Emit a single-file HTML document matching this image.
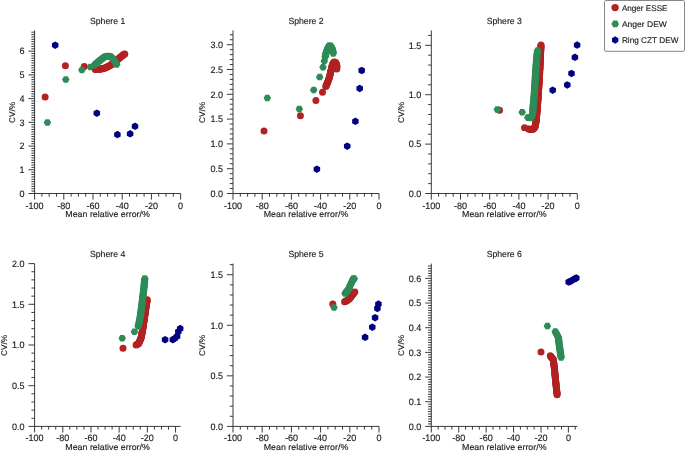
<!DOCTYPE html>
<html><head><meta charset="utf-8"><style>
html,body{margin:0;padding:0;background:#fff;overflow:hidden;}
text.t{fill:#1c1c1c;stroke:#1c1c1c;stroke-width:0.15px;}
svg{display:block;font-family:"Liberation Sans",sans-serif;will-change:transform;text-rendering:geometricPrecision;}
</style></head><body>
<svg width="685" height="451" viewBox="0 0 685 451">
<rect width="685" height="451" fill="#fff"/>
<line x1="34.60" y1="30.40" x2="34.60" y2="194.00" stroke="#3a3a3a" stroke-width="1.0"/>
<line x1="34.10" y1="193.50" x2="180.60" y2="193.50" stroke="#3a3a3a" stroke-width="1.0"/>
<line x1="34.60" y1="193.50" x2="34.60" y2="199.60" stroke="#3a3a3a" stroke-width="1.0"/>
<text transform="translate(34.60,208.50) scale(0.97,1)" font-size="9.3" text-anchor="middle" class="t">-100</text>
<line x1="41.90" y1="193.50" x2="41.90" y2="196.70" stroke="#3a3a3a" stroke-width="1.0"/>
<line x1="49.20" y1="193.50" x2="49.20" y2="196.70" stroke="#3a3a3a" stroke-width="1.0"/>
<line x1="56.50" y1="193.50" x2="56.50" y2="196.70" stroke="#3a3a3a" stroke-width="1.0"/>
<line x1="63.80" y1="193.50" x2="63.80" y2="199.60" stroke="#3a3a3a" stroke-width="1.0"/>
<text transform="translate(63.80,208.50) scale(0.97,1)" font-size="9.3" text-anchor="middle" class="t">-80</text>
<line x1="71.10" y1="193.50" x2="71.10" y2="196.70" stroke="#3a3a3a" stroke-width="1.0"/>
<line x1="78.40" y1="193.50" x2="78.40" y2="196.70" stroke="#3a3a3a" stroke-width="1.0"/>
<line x1="85.70" y1="193.50" x2="85.70" y2="196.70" stroke="#3a3a3a" stroke-width="1.0"/>
<line x1="93.00" y1="193.50" x2="93.00" y2="199.60" stroke="#3a3a3a" stroke-width="1.0"/>
<text transform="translate(93.00,208.50) scale(0.97,1)" font-size="9.3" text-anchor="middle" class="t">-60</text>
<line x1="100.30" y1="193.50" x2="100.30" y2="196.70" stroke="#3a3a3a" stroke-width="1.0"/>
<line x1="107.60" y1="193.50" x2="107.60" y2="196.70" stroke="#3a3a3a" stroke-width="1.0"/>
<line x1="114.90" y1="193.50" x2="114.90" y2="196.70" stroke="#3a3a3a" stroke-width="1.0"/>
<line x1="122.20" y1="193.50" x2="122.20" y2="199.60" stroke="#3a3a3a" stroke-width="1.0"/>
<text transform="translate(122.20,208.50) scale(0.97,1)" font-size="9.3" text-anchor="middle" class="t">-40</text>
<line x1="129.50" y1="193.50" x2="129.50" y2="196.70" stroke="#3a3a3a" stroke-width="1.0"/>
<line x1="136.80" y1="193.50" x2="136.80" y2="196.70" stroke="#3a3a3a" stroke-width="1.0"/>
<line x1="144.10" y1="193.50" x2="144.10" y2="196.70" stroke="#3a3a3a" stroke-width="1.0"/>
<line x1="151.40" y1="193.50" x2="151.40" y2="199.60" stroke="#3a3a3a" stroke-width="1.0"/>
<text transform="translate(151.40,208.50) scale(0.97,1)" font-size="9.3" text-anchor="middle" class="t">-20</text>
<line x1="158.70" y1="193.50" x2="158.70" y2="196.70" stroke="#3a3a3a" stroke-width="1.0"/>
<line x1="166.00" y1="193.50" x2="166.00" y2="196.70" stroke="#3a3a3a" stroke-width="1.0"/>
<line x1="173.30" y1="193.50" x2="173.30" y2="196.70" stroke="#3a3a3a" stroke-width="1.0"/>
<line x1="180.60" y1="193.50" x2="180.60" y2="199.60" stroke="#3a3a3a" stroke-width="1.0"/>
<text transform="translate(180.60,208.50) scale(0.97,1)" font-size="9.3" text-anchor="middle" class="t">0</text>
<line x1="28.50" y1="193.50" x2="34.60" y2="193.50" stroke="#3a3a3a" stroke-width="1.0"/>
<text transform="translate(24.60,196.80) scale(0.97,1)" font-size="9.3" text-anchor="end" class="t">0</text>
<line x1="31.40" y1="191.13" x2="34.60" y2="191.13" stroke="#3a3a3a" stroke-width="1.0"/>
<line x1="31.40" y1="188.76" x2="34.60" y2="188.76" stroke="#3a3a3a" stroke-width="1.0"/>
<line x1="31.40" y1="186.38" x2="34.60" y2="186.38" stroke="#3a3a3a" stroke-width="1.0"/>
<line x1="31.40" y1="184.01" x2="34.60" y2="184.01" stroke="#3a3a3a" stroke-width="1.0"/>
<line x1="31.40" y1="181.64" x2="34.60" y2="181.64" stroke="#3a3a3a" stroke-width="1.0"/>
<line x1="31.40" y1="179.27" x2="34.60" y2="179.27" stroke="#3a3a3a" stroke-width="1.0"/>
<line x1="31.40" y1="176.89" x2="34.60" y2="176.89" stroke="#3a3a3a" stroke-width="1.0"/>
<line x1="31.40" y1="174.52" x2="34.60" y2="174.52" stroke="#3a3a3a" stroke-width="1.0"/>
<line x1="31.40" y1="172.15" x2="34.60" y2="172.15" stroke="#3a3a3a" stroke-width="1.0"/>
<line x1="28.50" y1="169.78" x2="34.60" y2="169.78" stroke="#3a3a3a" stroke-width="1.0"/>
<text transform="translate(24.60,173.08) scale(0.97,1)" font-size="9.3" text-anchor="end" class="t">1</text>
<line x1="31.40" y1="167.40" x2="34.60" y2="167.40" stroke="#3a3a3a" stroke-width="1.0"/>
<line x1="31.40" y1="165.03" x2="34.60" y2="165.03" stroke="#3a3a3a" stroke-width="1.0"/>
<line x1="31.40" y1="162.66" x2="34.60" y2="162.66" stroke="#3a3a3a" stroke-width="1.0"/>
<line x1="31.40" y1="160.29" x2="34.60" y2="160.29" stroke="#3a3a3a" stroke-width="1.0"/>
<line x1="31.40" y1="157.91" x2="34.60" y2="157.91" stroke="#3a3a3a" stroke-width="1.0"/>
<line x1="31.40" y1="155.54" x2="34.60" y2="155.54" stroke="#3a3a3a" stroke-width="1.0"/>
<line x1="31.40" y1="153.17" x2="34.60" y2="153.17" stroke="#3a3a3a" stroke-width="1.0"/>
<line x1="31.40" y1="150.80" x2="34.60" y2="150.80" stroke="#3a3a3a" stroke-width="1.0"/>
<line x1="31.40" y1="148.43" x2="34.60" y2="148.43" stroke="#3a3a3a" stroke-width="1.0"/>
<line x1="28.50" y1="146.05" x2="34.60" y2="146.05" stroke="#3a3a3a" stroke-width="1.0"/>
<text transform="translate(24.60,149.35) scale(0.97,1)" font-size="9.3" text-anchor="end" class="t">2</text>
<line x1="31.40" y1="143.68" x2="34.60" y2="143.68" stroke="#3a3a3a" stroke-width="1.0"/>
<line x1="31.40" y1="141.31" x2="34.60" y2="141.31" stroke="#3a3a3a" stroke-width="1.0"/>
<line x1="31.40" y1="138.94" x2="34.60" y2="138.94" stroke="#3a3a3a" stroke-width="1.0"/>
<line x1="31.40" y1="136.56" x2="34.60" y2="136.56" stroke="#3a3a3a" stroke-width="1.0"/>
<line x1="31.40" y1="134.19" x2="34.60" y2="134.19" stroke="#3a3a3a" stroke-width="1.0"/>
<line x1="31.40" y1="131.82" x2="34.60" y2="131.82" stroke="#3a3a3a" stroke-width="1.0"/>
<line x1="31.40" y1="129.45" x2="34.60" y2="129.45" stroke="#3a3a3a" stroke-width="1.0"/>
<line x1="31.40" y1="127.07" x2="34.60" y2="127.07" stroke="#3a3a3a" stroke-width="1.0"/>
<line x1="31.40" y1="124.70" x2="34.60" y2="124.70" stroke="#3a3a3a" stroke-width="1.0"/>
<line x1="28.50" y1="122.33" x2="34.60" y2="122.33" stroke="#3a3a3a" stroke-width="1.0"/>
<text transform="translate(24.60,125.63) scale(0.97,1)" font-size="9.3" text-anchor="end" class="t">3</text>
<line x1="31.40" y1="119.96" x2="34.60" y2="119.96" stroke="#3a3a3a" stroke-width="1.0"/>
<line x1="31.40" y1="117.58" x2="34.60" y2="117.58" stroke="#3a3a3a" stroke-width="1.0"/>
<line x1="31.40" y1="115.21" x2="34.60" y2="115.21" stroke="#3a3a3a" stroke-width="1.0"/>
<line x1="31.40" y1="112.84" x2="34.60" y2="112.84" stroke="#3a3a3a" stroke-width="1.0"/>
<line x1="31.40" y1="110.47" x2="34.60" y2="110.47" stroke="#3a3a3a" stroke-width="1.0"/>
<line x1="31.40" y1="108.09" x2="34.60" y2="108.09" stroke="#3a3a3a" stroke-width="1.0"/>
<line x1="31.40" y1="105.72" x2="34.60" y2="105.72" stroke="#3a3a3a" stroke-width="1.0"/>
<line x1="31.40" y1="103.35" x2="34.60" y2="103.35" stroke="#3a3a3a" stroke-width="1.0"/>
<line x1="31.40" y1="100.98" x2="34.60" y2="100.98" stroke="#3a3a3a" stroke-width="1.0"/>
<line x1="28.50" y1="98.61" x2="34.60" y2="98.61" stroke="#3a3a3a" stroke-width="1.0"/>
<text transform="translate(24.60,101.91) scale(0.97,1)" font-size="9.3" text-anchor="end" class="t">4</text>
<line x1="31.40" y1="96.23" x2="34.60" y2="96.23" stroke="#3a3a3a" stroke-width="1.0"/>
<line x1="31.40" y1="93.86" x2="34.60" y2="93.86" stroke="#3a3a3a" stroke-width="1.0"/>
<line x1="31.40" y1="91.49" x2="34.60" y2="91.49" stroke="#3a3a3a" stroke-width="1.0"/>
<line x1="31.40" y1="89.12" x2="34.60" y2="89.12" stroke="#3a3a3a" stroke-width="1.0"/>
<line x1="31.40" y1="86.74" x2="34.60" y2="86.74" stroke="#3a3a3a" stroke-width="1.0"/>
<line x1="31.40" y1="84.37" x2="34.60" y2="84.37" stroke="#3a3a3a" stroke-width="1.0"/>
<line x1="31.40" y1="82.00" x2="34.60" y2="82.00" stroke="#3a3a3a" stroke-width="1.0"/>
<line x1="31.40" y1="79.63" x2="34.60" y2="79.63" stroke="#3a3a3a" stroke-width="1.0"/>
<line x1="31.40" y1="77.25" x2="34.60" y2="77.25" stroke="#3a3a3a" stroke-width="1.0"/>
<line x1="28.50" y1="74.88" x2="34.60" y2="74.88" stroke="#3a3a3a" stroke-width="1.0"/>
<text transform="translate(24.60,78.18) scale(0.97,1)" font-size="9.3" text-anchor="end" class="t">5</text>
<line x1="31.40" y1="72.51" x2="34.60" y2="72.51" stroke="#3a3a3a" stroke-width="1.0"/>
<line x1="31.40" y1="70.14" x2="34.60" y2="70.14" stroke="#3a3a3a" stroke-width="1.0"/>
<line x1="31.40" y1="67.76" x2="34.60" y2="67.76" stroke="#3a3a3a" stroke-width="1.0"/>
<line x1="31.40" y1="65.39" x2="34.60" y2="65.39" stroke="#3a3a3a" stroke-width="1.0"/>
<line x1="31.40" y1="63.02" x2="34.60" y2="63.02" stroke="#3a3a3a" stroke-width="1.0"/>
<line x1="31.40" y1="60.65" x2="34.60" y2="60.65" stroke="#3a3a3a" stroke-width="1.0"/>
<line x1="31.40" y1="58.28" x2="34.60" y2="58.28" stroke="#3a3a3a" stroke-width="1.0"/>
<line x1="31.40" y1="55.90" x2="34.60" y2="55.90" stroke="#3a3a3a" stroke-width="1.0"/>
<line x1="31.40" y1="53.53" x2="34.60" y2="53.53" stroke="#3a3a3a" stroke-width="1.0"/>
<line x1="28.50" y1="51.16" x2="34.60" y2="51.16" stroke="#3a3a3a" stroke-width="1.0"/>
<text transform="translate(24.60,54.46) scale(0.97,1)" font-size="9.3" text-anchor="end" class="t">6</text>
<line x1="31.40" y1="48.79" x2="34.60" y2="48.79" stroke="#3a3a3a" stroke-width="1.0"/>
<line x1="31.40" y1="46.41" x2="34.60" y2="46.41" stroke="#3a3a3a" stroke-width="1.0"/>
<line x1="31.40" y1="44.04" x2="34.60" y2="44.04" stroke="#3a3a3a" stroke-width="1.0"/>
<line x1="31.40" y1="41.67" x2="34.60" y2="41.67" stroke="#3a3a3a" stroke-width="1.0"/>
<line x1="31.40" y1="39.30" x2="34.60" y2="39.30" stroke="#3a3a3a" stroke-width="1.0"/>
<line x1="31.40" y1="36.92" x2="34.60" y2="36.92" stroke="#3a3a3a" stroke-width="1.0"/>
<line x1="31.40" y1="34.55" x2="34.60" y2="34.55" stroke="#3a3a3a" stroke-width="1.0"/>
<line x1="31.40" y1="32.18" x2="34.60" y2="32.18" stroke="#3a3a3a" stroke-width="1.0"/>
<text x="107.60" y="217.20" font-size="8.6" text-anchor="middle" class="t" textLength="84.5" lengthAdjust="spacingAndGlyphs">Mean relative error/%</text>
<text x="107.60" y="23.75" font-size="8.8" text-anchor="middle" class="t" textLength="35.2" lengthAdjust="spacingAndGlyphs">Sphere 1</text>
<text x="0" y="0" transform="translate(14.60,112.45) rotate(-90)" font-size="8.2" text-anchor="middle" class="t">CV/%</text>
<line x1="233.00" y1="30.40" x2="233.00" y2="194.00" stroke="#3a3a3a" stroke-width="1.0"/>
<line x1="232.50" y1="193.50" x2="379.00" y2="193.50" stroke="#3a3a3a" stroke-width="1.0"/>
<line x1="233.00" y1="193.50" x2="233.00" y2="199.60" stroke="#3a3a3a" stroke-width="1.0"/>
<text transform="translate(233.00,208.50) scale(0.97,1)" font-size="9.3" text-anchor="middle" class="t">-100</text>
<line x1="240.30" y1="193.50" x2="240.30" y2="196.70" stroke="#3a3a3a" stroke-width="1.0"/>
<line x1="247.60" y1="193.50" x2="247.60" y2="196.70" stroke="#3a3a3a" stroke-width="1.0"/>
<line x1="254.90" y1="193.50" x2="254.90" y2="196.70" stroke="#3a3a3a" stroke-width="1.0"/>
<line x1="262.20" y1="193.50" x2="262.20" y2="199.60" stroke="#3a3a3a" stroke-width="1.0"/>
<text transform="translate(262.20,208.50) scale(0.97,1)" font-size="9.3" text-anchor="middle" class="t">-80</text>
<line x1="269.50" y1="193.50" x2="269.50" y2="196.70" stroke="#3a3a3a" stroke-width="1.0"/>
<line x1="276.80" y1="193.50" x2="276.80" y2="196.70" stroke="#3a3a3a" stroke-width="1.0"/>
<line x1="284.10" y1="193.50" x2="284.10" y2="196.70" stroke="#3a3a3a" stroke-width="1.0"/>
<line x1="291.40" y1="193.50" x2="291.40" y2="199.60" stroke="#3a3a3a" stroke-width="1.0"/>
<text transform="translate(291.40,208.50) scale(0.97,1)" font-size="9.3" text-anchor="middle" class="t">-60</text>
<line x1="298.70" y1="193.50" x2="298.70" y2="196.70" stroke="#3a3a3a" stroke-width="1.0"/>
<line x1="306.00" y1="193.50" x2="306.00" y2="196.70" stroke="#3a3a3a" stroke-width="1.0"/>
<line x1="313.30" y1="193.50" x2="313.30" y2="196.70" stroke="#3a3a3a" stroke-width="1.0"/>
<line x1="320.60" y1="193.50" x2="320.60" y2="199.60" stroke="#3a3a3a" stroke-width="1.0"/>
<text transform="translate(320.60,208.50) scale(0.97,1)" font-size="9.3" text-anchor="middle" class="t">-40</text>
<line x1="327.90" y1="193.50" x2="327.90" y2="196.70" stroke="#3a3a3a" stroke-width="1.0"/>
<line x1="335.20" y1="193.50" x2="335.20" y2="196.70" stroke="#3a3a3a" stroke-width="1.0"/>
<line x1="342.50" y1="193.50" x2="342.50" y2="196.70" stroke="#3a3a3a" stroke-width="1.0"/>
<line x1="349.80" y1="193.50" x2="349.80" y2="199.60" stroke="#3a3a3a" stroke-width="1.0"/>
<text transform="translate(349.80,208.50) scale(0.97,1)" font-size="9.3" text-anchor="middle" class="t">-20</text>
<line x1="357.10" y1="193.50" x2="357.10" y2="196.70" stroke="#3a3a3a" stroke-width="1.0"/>
<line x1="364.40" y1="193.50" x2="364.40" y2="196.70" stroke="#3a3a3a" stroke-width="1.0"/>
<line x1="371.70" y1="193.50" x2="371.70" y2="196.70" stroke="#3a3a3a" stroke-width="1.0"/>
<line x1="379.00" y1="193.50" x2="379.00" y2="199.60" stroke="#3a3a3a" stroke-width="1.0"/>
<text transform="translate(379.00,208.50) scale(0.97,1)" font-size="9.3" text-anchor="middle" class="t">0</text>
<line x1="226.90" y1="193.50" x2="233.00" y2="193.50" stroke="#3a3a3a" stroke-width="1.0"/>
<text transform="translate(223.00,196.80) scale(0.97,1)" font-size="9.3" text-anchor="end" class="t">0.0</text>
<line x1="229.80" y1="188.54" x2="233.00" y2="188.54" stroke="#3a3a3a" stroke-width="1.0"/>
<line x1="229.80" y1="183.58" x2="233.00" y2="183.58" stroke="#3a3a3a" stroke-width="1.0"/>
<line x1="229.80" y1="178.62" x2="233.00" y2="178.62" stroke="#3a3a3a" stroke-width="1.0"/>
<line x1="229.80" y1="173.66" x2="233.00" y2="173.66" stroke="#3a3a3a" stroke-width="1.0"/>
<line x1="226.90" y1="168.70" x2="233.00" y2="168.70" stroke="#3a3a3a" stroke-width="1.0"/>
<text transform="translate(223.00,172.00) scale(0.97,1)" font-size="9.3" text-anchor="end" class="t">0.5</text>
<line x1="229.80" y1="163.74" x2="233.00" y2="163.74" stroke="#3a3a3a" stroke-width="1.0"/>
<line x1="229.80" y1="158.78" x2="233.00" y2="158.78" stroke="#3a3a3a" stroke-width="1.0"/>
<line x1="229.80" y1="153.82" x2="233.00" y2="153.82" stroke="#3a3a3a" stroke-width="1.0"/>
<line x1="229.80" y1="148.86" x2="233.00" y2="148.86" stroke="#3a3a3a" stroke-width="1.0"/>
<line x1="226.90" y1="143.90" x2="233.00" y2="143.90" stroke="#3a3a3a" stroke-width="1.0"/>
<text transform="translate(223.00,147.20) scale(0.97,1)" font-size="9.3" text-anchor="end" class="t">1.0</text>
<line x1="229.80" y1="138.93" x2="233.00" y2="138.93" stroke="#3a3a3a" stroke-width="1.0"/>
<line x1="229.80" y1="133.97" x2="233.00" y2="133.97" stroke="#3a3a3a" stroke-width="1.0"/>
<line x1="229.80" y1="129.01" x2="233.00" y2="129.01" stroke="#3a3a3a" stroke-width="1.0"/>
<line x1="229.80" y1="124.05" x2="233.00" y2="124.05" stroke="#3a3a3a" stroke-width="1.0"/>
<line x1="226.90" y1="119.09" x2="233.00" y2="119.09" stroke="#3a3a3a" stroke-width="1.0"/>
<text transform="translate(223.00,122.39) scale(0.97,1)" font-size="9.3" text-anchor="end" class="t">1.5</text>
<line x1="229.80" y1="114.13" x2="233.00" y2="114.13" stroke="#3a3a3a" stroke-width="1.0"/>
<line x1="229.80" y1="109.17" x2="233.00" y2="109.17" stroke="#3a3a3a" stroke-width="1.0"/>
<line x1="229.80" y1="104.21" x2="233.00" y2="104.21" stroke="#3a3a3a" stroke-width="1.0"/>
<line x1="229.80" y1="99.25" x2="233.00" y2="99.25" stroke="#3a3a3a" stroke-width="1.0"/>
<line x1="226.90" y1="94.29" x2="233.00" y2="94.29" stroke="#3a3a3a" stroke-width="1.0"/>
<text transform="translate(223.00,97.59) scale(0.97,1)" font-size="9.3" text-anchor="end" class="t">2.0</text>
<line x1="229.80" y1="89.33" x2="233.00" y2="89.33" stroke="#3a3a3a" stroke-width="1.0"/>
<line x1="229.80" y1="84.37" x2="233.00" y2="84.37" stroke="#3a3a3a" stroke-width="1.0"/>
<line x1="229.80" y1="79.41" x2="233.00" y2="79.41" stroke="#3a3a3a" stroke-width="1.0"/>
<line x1="229.80" y1="74.45" x2="233.00" y2="74.45" stroke="#3a3a3a" stroke-width="1.0"/>
<line x1="226.90" y1="69.49" x2="233.00" y2="69.49" stroke="#3a3a3a" stroke-width="1.0"/>
<text transform="translate(223.00,72.79) scale(0.97,1)" font-size="9.3" text-anchor="end" class="t">2.5</text>
<line x1="229.80" y1="64.53" x2="233.00" y2="64.53" stroke="#3a3a3a" stroke-width="1.0"/>
<line x1="229.80" y1="59.57" x2="233.00" y2="59.57" stroke="#3a3a3a" stroke-width="1.0"/>
<line x1="229.80" y1="54.61" x2="233.00" y2="54.61" stroke="#3a3a3a" stroke-width="1.0"/>
<line x1="229.80" y1="49.65" x2="233.00" y2="49.65" stroke="#3a3a3a" stroke-width="1.0"/>
<line x1="226.90" y1="44.69" x2="233.00" y2="44.69" stroke="#3a3a3a" stroke-width="1.0"/>
<text transform="translate(223.00,47.99) scale(0.97,1)" font-size="9.3" text-anchor="end" class="t">3.0</text>
<line x1="229.80" y1="39.73" x2="233.00" y2="39.73" stroke="#3a3a3a" stroke-width="1.0"/>
<line x1="229.80" y1="34.77" x2="233.00" y2="34.77" stroke="#3a3a3a" stroke-width="1.0"/>
<text x="306.00" y="217.20" font-size="8.6" text-anchor="middle" class="t" textLength="84.5" lengthAdjust="spacingAndGlyphs">Mean relative error/%</text>
<text x="306.00" y="23.75" font-size="8.8" text-anchor="middle" class="t" textLength="35.2" lengthAdjust="spacingAndGlyphs">Sphere 2</text>
<text x="0" y="0" transform="translate(205.20,112.45) rotate(-90)" font-size="8.2" text-anchor="middle" class="t">CV/%</text>
<line x1="431.30" y1="30.40" x2="431.30" y2="194.00" stroke="#3a3a3a" stroke-width="1.0"/>
<line x1="430.80" y1="193.50" x2="577.30" y2="193.50" stroke="#3a3a3a" stroke-width="1.0"/>
<line x1="431.30" y1="193.50" x2="431.30" y2="199.60" stroke="#3a3a3a" stroke-width="1.0"/>
<text transform="translate(431.30,208.50) scale(0.97,1)" font-size="9.3" text-anchor="middle" class="t">-100</text>
<line x1="438.60" y1="193.50" x2="438.60" y2="196.70" stroke="#3a3a3a" stroke-width="1.0"/>
<line x1="445.90" y1="193.50" x2="445.90" y2="196.70" stroke="#3a3a3a" stroke-width="1.0"/>
<line x1="453.20" y1="193.50" x2="453.20" y2="196.70" stroke="#3a3a3a" stroke-width="1.0"/>
<line x1="460.50" y1="193.50" x2="460.50" y2="199.60" stroke="#3a3a3a" stroke-width="1.0"/>
<text transform="translate(460.50,208.50) scale(0.97,1)" font-size="9.3" text-anchor="middle" class="t">-80</text>
<line x1="467.80" y1="193.50" x2="467.80" y2="196.70" stroke="#3a3a3a" stroke-width="1.0"/>
<line x1="475.10" y1="193.50" x2="475.10" y2="196.70" stroke="#3a3a3a" stroke-width="1.0"/>
<line x1="482.40" y1="193.50" x2="482.40" y2="196.70" stroke="#3a3a3a" stroke-width="1.0"/>
<line x1="489.70" y1="193.50" x2="489.70" y2="199.60" stroke="#3a3a3a" stroke-width="1.0"/>
<text transform="translate(489.70,208.50) scale(0.97,1)" font-size="9.3" text-anchor="middle" class="t">-60</text>
<line x1="497.00" y1="193.50" x2="497.00" y2="196.70" stroke="#3a3a3a" stroke-width="1.0"/>
<line x1="504.30" y1="193.50" x2="504.30" y2="196.70" stroke="#3a3a3a" stroke-width="1.0"/>
<line x1="511.60" y1="193.50" x2="511.60" y2="196.70" stroke="#3a3a3a" stroke-width="1.0"/>
<line x1="518.90" y1="193.50" x2="518.90" y2="199.60" stroke="#3a3a3a" stroke-width="1.0"/>
<text transform="translate(518.90,208.50) scale(0.97,1)" font-size="9.3" text-anchor="middle" class="t">-40</text>
<line x1="526.20" y1="193.50" x2="526.20" y2="196.70" stroke="#3a3a3a" stroke-width="1.0"/>
<line x1="533.50" y1="193.50" x2="533.50" y2="196.70" stroke="#3a3a3a" stroke-width="1.0"/>
<line x1="540.80" y1="193.50" x2="540.80" y2="196.70" stroke="#3a3a3a" stroke-width="1.0"/>
<line x1="548.10" y1="193.50" x2="548.10" y2="199.60" stroke="#3a3a3a" stroke-width="1.0"/>
<text transform="translate(548.10,208.50) scale(0.97,1)" font-size="9.3" text-anchor="middle" class="t">-20</text>
<line x1="555.40" y1="193.50" x2="555.40" y2="196.70" stroke="#3a3a3a" stroke-width="1.0"/>
<line x1="562.70" y1="193.50" x2="562.70" y2="196.70" stroke="#3a3a3a" stroke-width="1.0"/>
<line x1="570.00" y1="193.50" x2="570.00" y2="196.70" stroke="#3a3a3a" stroke-width="1.0"/>
<line x1="577.30" y1="193.50" x2="577.30" y2="199.60" stroke="#3a3a3a" stroke-width="1.0"/>
<text transform="translate(577.30,208.50) scale(0.97,1)" font-size="9.3" text-anchor="middle" class="t">0</text>
<line x1="425.20" y1="193.50" x2="431.30" y2="193.50" stroke="#3a3a3a" stroke-width="1.0"/>
<text transform="translate(421.30,196.80) scale(0.97,1)" font-size="9.3" text-anchor="end" class="t">0.0</text>
<line x1="428.10" y1="183.62" x2="431.30" y2="183.62" stroke="#3a3a3a" stroke-width="1.0"/>
<line x1="428.10" y1="173.74" x2="431.30" y2="173.74" stroke="#3a3a3a" stroke-width="1.0"/>
<line x1="428.10" y1="163.86" x2="431.30" y2="163.86" stroke="#3a3a3a" stroke-width="1.0"/>
<line x1="428.10" y1="153.98" x2="431.30" y2="153.98" stroke="#3a3a3a" stroke-width="1.0"/>
<line x1="425.20" y1="144.11" x2="431.30" y2="144.11" stroke="#3a3a3a" stroke-width="1.0"/>
<text transform="translate(421.30,147.41) scale(0.97,1)" font-size="9.3" text-anchor="end" class="t">0.5</text>
<line x1="428.10" y1="134.23" x2="431.30" y2="134.23" stroke="#3a3a3a" stroke-width="1.0"/>
<line x1="428.10" y1="124.35" x2="431.30" y2="124.35" stroke="#3a3a3a" stroke-width="1.0"/>
<line x1="428.10" y1="114.47" x2="431.30" y2="114.47" stroke="#3a3a3a" stroke-width="1.0"/>
<line x1="428.10" y1="104.59" x2="431.30" y2="104.59" stroke="#3a3a3a" stroke-width="1.0"/>
<line x1="425.20" y1="94.71" x2="431.30" y2="94.71" stroke="#3a3a3a" stroke-width="1.0"/>
<text transform="translate(421.30,98.01) scale(0.97,1)" font-size="9.3" text-anchor="end" class="t">1.0</text>
<line x1="428.10" y1="84.83" x2="431.30" y2="84.83" stroke="#3a3a3a" stroke-width="1.0"/>
<line x1="428.10" y1="74.95" x2="431.30" y2="74.95" stroke="#3a3a3a" stroke-width="1.0"/>
<line x1="428.10" y1="65.07" x2="431.30" y2="65.07" stroke="#3a3a3a" stroke-width="1.0"/>
<line x1="428.10" y1="55.20" x2="431.30" y2="55.20" stroke="#3a3a3a" stroke-width="1.0"/>
<line x1="425.20" y1="45.32" x2="431.30" y2="45.32" stroke="#3a3a3a" stroke-width="1.0"/>
<text transform="translate(421.30,48.62) scale(0.97,1)" font-size="9.3" text-anchor="end" class="t">1.5</text>
<line x1="428.10" y1="35.44" x2="431.30" y2="35.44" stroke="#3a3a3a" stroke-width="1.0"/>
<text x="504.30" y="217.20" font-size="8.6" text-anchor="middle" class="t" textLength="84.5" lengthAdjust="spacingAndGlyphs">Mean relative error/%</text>
<text x="504.30" y="23.75" font-size="8.8" text-anchor="middle" class="t" textLength="35.2" lengthAdjust="spacingAndGlyphs">Sphere 3</text>
<text x="0" y="0" transform="translate(403.50,112.45) rotate(-90)" font-size="8.2" text-anchor="middle" class="t">CV/%</text>
<line x1="34.60" y1="263.60" x2="34.60" y2="426.90" stroke="#3a3a3a" stroke-width="1.0"/>
<line x1="34.10" y1="426.40" x2="180.60" y2="426.40" stroke="#3a3a3a" stroke-width="1.0"/>
<line x1="34.60" y1="426.40" x2="34.60" y2="432.50" stroke="#3a3a3a" stroke-width="1.0"/>
<text transform="translate(34.60,441.40) scale(0.97,1)" font-size="9.3" text-anchor="middle" class="t">-100</text>
<line x1="41.65" y1="426.40" x2="41.65" y2="429.60" stroke="#3a3a3a" stroke-width="1.0"/>
<line x1="48.70" y1="426.40" x2="48.70" y2="429.60" stroke="#3a3a3a" stroke-width="1.0"/>
<line x1="55.74" y1="426.40" x2="55.74" y2="429.60" stroke="#3a3a3a" stroke-width="1.0"/>
<line x1="62.79" y1="426.40" x2="62.79" y2="432.50" stroke="#3a3a3a" stroke-width="1.0"/>
<text transform="translate(62.79,441.40) scale(0.97,1)" font-size="9.3" text-anchor="middle" class="t">-80</text>
<line x1="69.84" y1="426.40" x2="69.84" y2="429.60" stroke="#3a3a3a" stroke-width="1.0"/>
<line x1="76.89" y1="426.40" x2="76.89" y2="429.60" stroke="#3a3a3a" stroke-width="1.0"/>
<line x1="83.93" y1="426.40" x2="83.93" y2="429.60" stroke="#3a3a3a" stroke-width="1.0"/>
<line x1="90.98" y1="426.40" x2="90.98" y2="432.50" stroke="#3a3a3a" stroke-width="1.0"/>
<text transform="translate(90.98,441.40) scale(0.97,1)" font-size="9.3" text-anchor="middle" class="t">-60</text>
<line x1="98.03" y1="426.40" x2="98.03" y2="429.60" stroke="#3a3a3a" stroke-width="1.0"/>
<line x1="105.08" y1="426.40" x2="105.08" y2="429.60" stroke="#3a3a3a" stroke-width="1.0"/>
<line x1="112.12" y1="426.40" x2="112.12" y2="429.60" stroke="#3a3a3a" stroke-width="1.0"/>
<line x1="119.17" y1="426.40" x2="119.17" y2="432.50" stroke="#3a3a3a" stroke-width="1.0"/>
<text transform="translate(119.17,441.40) scale(0.97,1)" font-size="9.3" text-anchor="middle" class="t">-40</text>
<line x1="126.22" y1="426.40" x2="126.22" y2="429.60" stroke="#3a3a3a" stroke-width="1.0"/>
<line x1="133.27" y1="426.40" x2="133.27" y2="429.60" stroke="#3a3a3a" stroke-width="1.0"/>
<line x1="140.32" y1="426.40" x2="140.32" y2="429.60" stroke="#3a3a3a" stroke-width="1.0"/>
<line x1="147.36" y1="426.40" x2="147.36" y2="432.50" stroke="#3a3a3a" stroke-width="1.0"/>
<text transform="translate(147.36,441.40) scale(0.97,1)" font-size="9.3" text-anchor="middle" class="t">-20</text>
<line x1="154.41" y1="426.40" x2="154.41" y2="429.60" stroke="#3a3a3a" stroke-width="1.0"/>
<line x1="161.46" y1="426.40" x2="161.46" y2="429.60" stroke="#3a3a3a" stroke-width="1.0"/>
<line x1="168.51" y1="426.40" x2="168.51" y2="429.60" stroke="#3a3a3a" stroke-width="1.0"/>
<line x1="175.55" y1="426.40" x2="175.55" y2="432.50" stroke="#3a3a3a" stroke-width="1.0"/>
<text transform="translate(175.55,441.40) scale(0.97,1)" font-size="9.3" text-anchor="middle" class="t">0</text>
<line x1="28.50" y1="426.40" x2="34.60" y2="426.40" stroke="#3a3a3a" stroke-width="1.0"/>
<text transform="translate(24.60,429.70) scale(0.97,1)" font-size="9.3" text-anchor="end" class="t">0.0</text>
<line x1="31.40" y1="418.26" x2="34.60" y2="418.26" stroke="#3a3a3a" stroke-width="1.0"/>
<line x1="31.40" y1="410.12" x2="34.60" y2="410.12" stroke="#3a3a3a" stroke-width="1.0"/>
<line x1="31.40" y1="401.98" x2="34.60" y2="401.98" stroke="#3a3a3a" stroke-width="1.0"/>
<line x1="31.40" y1="393.84" x2="34.60" y2="393.84" stroke="#3a3a3a" stroke-width="1.0"/>
<line x1="28.50" y1="385.70" x2="34.60" y2="385.70" stroke="#3a3a3a" stroke-width="1.0"/>
<text transform="translate(24.60,389.00) scale(0.97,1)" font-size="9.3" text-anchor="end" class="t">0.5</text>
<line x1="31.40" y1="377.56" x2="34.60" y2="377.56" stroke="#3a3a3a" stroke-width="1.0"/>
<line x1="31.40" y1="369.42" x2="34.60" y2="369.42" stroke="#3a3a3a" stroke-width="1.0"/>
<line x1="31.40" y1="361.28" x2="34.60" y2="361.28" stroke="#3a3a3a" stroke-width="1.0"/>
<line x1="31.40" y1="353.14" x2="34.60" y2="353.14" stroke="#3a3a3a" stroke-width="1.0"/>
<line x1="28.50" y1="345.00" x2="34.60" y2="345.00" stroke="#3a3a3a" stroke-width="1.0"/>
<text transform="translate(24.60,348.30) scale(0.97,1)" font-size="9.3" text-anchor="end" class="t">1.0</text>
<line x1="31.40" y1="336.86" x2="34.60" y2="336.86" stroke="#3a3a3a" stroke-width="1.0"/>
<line x1="31.40" y1="328.72" x2="34.60" y2="328.72" stroke="#3a3a3a" stroke-width="1.0"/>
<line x1="31.40" y1="320.58" x2="34.60" y2="320.58" stroke="#3a3a3a" stroke-width="1.0"/>
<line x1="31.40" y1="312.44" x2="34.60" y2="312.44" stroke="#3a3a3a" stroke-width="1.0"/>
<line x1="28.50" y1="304.30" x2="34.60" y2="304.30" stroke="#3a3a3a" stroke-width="1.0"/>
<text transform="translate(24.60,307.60) scale(0.97,1)" font-size="9.3" text-anchor="end" class="t">1.5</text>
<line x1="31.40" y1="296.16" x2="34.60" y2="296.16" stroke="#3a3a3a" stroke-width="1.0"/>
<line x1="31.40" y1="288.02" x2="34.60" y2="288.02" stroke="#3a3a3a" stroke-width="1.0"/>
<line x1="31.40" y1="279.88" x2="34.60" y2="279.88" stroke="#3a3a3a" stroke-width="1.0"/>
<line x1="31.40" y1="271.74" x2="34.60" y2="271.74" stroke="#3a3a3a" stroke-width="1.0"/>
<line x1="28.50" y1="263.60" x2="34.60" y2="263.60" stroke="#3a3a3a" stroke-width="1.0"/>
<text transform="translate(24.60,266.90) scale(0.97,1)" font-size="9.3" text-anchor="end" class="t">2.0</text>
<text x="107.60" y="450.10" font-size="8.6" text-anchor="middle" class="t" textLength="84.5" lengthAdjust="spacingAndGlyphs">Mean relative error/%</text>
<text x="107.60" y="256.65" font-size="8.8" text-anchor="middle" class="t" textLength="35.2" lengthAdjust="spacingAndGlyphs">Sphere 4</text>
<text x="0" y="0" transform="translate(6.80,345.50) rotate(-90)" font-size="8.2" text-anchor="middle" class="t">CV/%</text>
<line x1="233.00" y1="263.60" x2="233.00" y2="426.90" stroke="#3a3a3a" stroke-width="1.0"/>
<line x1="232.50" y1="426.40" x2="379.00" y2="426.40" stroke="#3a3a3a" stroke-width="1.0"/>
<line x1="233.00" y1="426.40" x2="233.00" y2="432.50" stroke="#3a3a3a" stroke-width="1.0"/>
<text transform="translate(233.00,441.40) scale(0.97,1)" font-size="9.3" text-anchor="middle" class="t">-100</text>
<line x1="240.30" y1="426.40" x2="240.30" y2="429.60" stroke="#3a3a3a" stroke-width="1.0"/>
<line x1="247.60" y1="426.40" x2="247.60" y2="429.60" stroke="#3a3a3a" stroke-width="1.0"/>
<line x1="254.90" y1="426.40" x2="254.90" y2="429.60" stroke="#3a3a3a" stroke-width="1.0"/>
<line x1="262.20" y1="426.40" x2="262.20" y2="432.50" stroke="#3a3a3a" stroke-width="1.0"/>
<text transform="translate(262.20,441.40) scale(0.97,1)" font-size="9.3" text-anchor="middle" class="t">-80</text>
<line x1="269.50" y1="426.40" x2="269.50" y2="429.60" stroke="#3a3a3a" stroke-width="1.0"/>
<line x1="276.80" y1="426.40" x2="276.80" y2="429.60" stroke="#3a3a3a" stroke-width="1.0"/>
<line x1="284.10" y1="426.40" x2="284.10" y2="429.60" stroke="#3a3a3a" stroke-width="1.0"/>
<line x1="291.40" y1="426.40" x2="291.40" y2="432.50" stroke="#3a3a3a" stroke-width="1.0"/>
<text transform="translate(291.40,441.40) scale(0.97,1)" font-size="9.3" text-anchor="middle" class="t">-60</text>
<line x1="298.70" y1="426.40" x2="298.70" y2="429.60" stroke="#3a3a3a" stroke-width="1.0"/>
<line x1="306.00" y1="426.40" x2="306.00" y2="429.60" stroke="#3a3a3a" stroke-width="1.0"/>
<line x1="313.30" y1="426.40" x2="313.30" y2="429.60" stroke="#3a3a3a" stroke-width="1.0"/>
<line x1="320.60" y1="426.40" x2="320.60" y2="432.50" stroke="#3a3a3a" stroke-width="1.0"/>
<text transform="translate(320.60,441.40) scale(0.97,1)" font-size="9.3" text-anchor="middle" class="t">-40</text>
<line x1="327.90" y1="426.40" x2="327.90" y2="429.60" stroke="#3a3a3a" stroke-width="1.0"/>
<line x1="335.20" y1="426.40" x2="335.20" y2="429.60" stroke="#3a3a3a" stroke-width="1.0"/>
<line x1="342.50" y1="426.40" x2="342.50" y2="429.60" stroke="#3a3a3a" stroke-width="1.0"/>
<line x1="349.80" y1="426.40" x2="349.80" y2="432.50" stroke="#3a3a3a" stroke-width="1.0"/>
<text transform="translate(349.80,441.40) scale(0.97,1)" font-size="9.3" text-anchor="middle" class="t">-20</text>
<line x1="357.10" y1="426.40" x2="357.10" y2="429.60" stroke="#3a3a3a" stroke-width="1.0"/>
<line x1="364.40" y1="426.40" x2="364.40" y2="429.60" stroke="#3a3a3a" stroke-width="1.0"/>
<line x1="371.70" y1="426.40" x2="371.70" y2="429.60" stroke="#3a3a3a" stroke-width="1.0"/>
<line x1="379.00" y1="426.40" x2="379.00" y2="432.50" stroke="#3a3a3a" stroke-width="1.0"/>
<text transform="translate(379.00,441.40) scale(0.97,1)" font-size="9.3" text-anchor="middle" class="t">0</text>
<line x1="226.90" y1="426.40" x2="233.00" y2="426.40" stroke="#3a3a3a" stroke-width="1.0"/>
<text transform="translate(223.00,429.70) scale(0.97,1)" font-size="9.3" text-anchor="end" class="t">0.0</text>
<line x1="229.80" y1="416.29" x2="233.00" y2="416.29" stroke="#3a3a3a" stroke-width="1.0"/>
<line x1="229.80" y1="406.18" x2="233.00" y2="406.18" stroke="#3a3a3a" stroke-width="1.0"/>
<line x1="229.80" y1="396.06" x2="233.00" y2="396.06" stroke="#3a3a3a" stroke-width="1.0"/>
<line x1="229.80" y1="385.95" x2="233.00" y2="385.95" stroke="#3a3a3a" stroke-width="1.0"/>
<line x1="226.90" y1="375.84" x2="233.00" y2="375.84" stroke="#3a3a3a" stroke-width="1.0"/>
<text transform="translate(223.00,379.14) scale(0.97,1)" font-size="9.3" text-anchor="end" class="t">0.5</text>
<line x1="229.80" y1="365.73" x2="233.00" y2="365.73" stroke="#3a3a3a" stroke-width="1.0"/>
<line x1="229.80" y1="355.62" x2="233.00" y2="355.62" stroke="#3a3a3a" stroke-width="1.0"/>
<line x1="229.80" y1="345.51" x2="233.00" y2="345.51" stroke="#3a3a3a" stroke-width="1.0"/>
<line x1="229.80" y1="335.39" x2="233.00" y2="335.39" stroke="#3a3a3a" stroke-width="1.0"/>
<line x1="226.90" y1="325.28" x2="233.00" y2="325.28" stroke="#3a3a3a" stroke-width="1.0"/>
<text transform="translate(223.00,328.58) scale(0.97,1)" font-size="9.3" text-anchor="end" class="t">1.0</text>
<line x1="229.80" y1="315.17" x2="233.00" y2="315.17" stroke="#3a3a3a" stroke-width="1.0"/>
<line x1="229.80" y1="305.06" x2="233.00" y2="305.06" stroke="#3a3a3a" stroke-width="1.0"/>
<line x1="229.80" y1="294.95" x2="233.00" y2="294.95" stroke="#3a3a3a" stroke-width="1.0"/>
<line x1="229.80" y1="284.83" x2="233.00" y2="284.83" stroke="#3a3a3a" stroke-width="1.0"/>
<line x1="226.90" y1="274.72" x2="233.00" y2="274.72" stroke="#3a3a3a" stroke-width="1.0"/>
<text transform="translate(223.00,278.02) scale(0.97,1)" font-size="9.3" text-anchor="end" class="t">1.5</text>
<line x1="229.80" y1="264.61" x2="233.00" y2="264.61" stroke="#3a3a3a" stroke-width="1.0"/>
<text x="306.00" y="450.10" font-size="8.6" text-anchor="middle" class="t" textLength="84.5" lengthAdjust="spacingAndGlyphs">Mean relative error/%</text>
<text x="306.00" y="256.65" font-size="8.8" text-anchor="middle" class="t" textLength="35.2" lengthAdjust="spacingAndGlyphs">Sphere 5</text>
<text x="0" y="0" transform="translate(205.20,345.50) rotate(-90)" font-size="8.2" text-anchor="middle" class="t">CV/%</text>
<line x1="431.30" y1="263.60" x2="431.30" y2="426.90" stroke="#3a3a3a" stroke-width="1.0"/>
<line x1="430.80" y1="426.40" x2="577.30" y2="426.40" stroke="#3a3a3a" stroke-width="1.0"/>
<line x1="431.30" y1="426.40" x2="431.30" y2="432.50" stroke="#3a3a3a" stroke-width="1.0"/>
<text transform="translate(431.30,441.40) scale(0.97,1)" font-size="9.3" text-anchor="middle" class="t">-100</text>
<line x1="438.15" y1="426.40" x2="438.15" y2="429.60" stroke="#3a3a3a" stroke-width="1.0"/>
<line x1="445.01" y1="426.40" x2="445.01" y2="429.60" stroke="#3a3a3a" stroke-width="1.0"/>
<line x1="451.86" y1="426.40" x2="451.86" y2="429.60" stroke="#3a3a3a" stroke-width="1.0"/>
<line x1="458.72" y1="426.40" x2="458.72" y2="432.50" stroke="#3a3a3a" stroke-width="1.0"/>
<text transform="translate(458.72,441.40) scale(0.97,1)" font-size="9.3" text-anchor="middle" class="t">-80</text>
<line x1="465.57" y1="426.40" x2="465.57" y2="429.60" stroke="#3a3a3a" stroke-width="1.0"/>
<line x1="472.43" y1="426.40" x2="472.43" y2="429.60" stroke="#3a3a3a" stroke-width="1.0"/>
<line x1="479.28" y1="426.40" x2="479.28" y2="429.60" stroke="#3a3a3a" stroke-width="1.0"/>
<line x1="486.14" y1="426.40" x2="486.14" y2="432.50" stroke="#3a3a3a" stroke-width="1.0"/>
<text transform="translate(486.14,441.40) scale(0.97,1)" font-size="9.3" text-anchor="middle" class="t">-60</text>
<line x1="492.99" y1="426.40" x2="492.99" y2="429.60" stroke="#3a3a3a" stroke-width="1.0"/>
<line x1="499.84" y1="426.40" x2="499.84" y2="429.60" stroke="#3a3a3a" stroke-width="1.0"/>
<line x1="506.70" y1="426.40" x2="506.70" y2="429.60" stroke="#3a3a3a" stroke-width="1.0"/>
<line x1="513.55" y1="426.40" x2="513.55" y2="432.50" stroke="#3a3a3a" stroke-width="1.0"/>
<text transform="translate(513.55,441.40) scale(0.97,1)" font-size="9.3" text-anchor="middle" class="t">-40</text>
<line x1="520.41" y1="426.40" x2="520.41" y2="429.60" stroke="#3a3a3a" stroke-width="1.0"/>
<line x1="527.26" y1="426.40" x2="527.26" y2="429.60" stroke="#3a3a3a" stroke-width="1.0"/>
<line x1="534.12" y1="426.40" x2="534.12" y2="429.60" stroke="#3a3a3a" stroke-width="1.0"/>
<line x1="540.97" y1="426.40" x2="540.97" y2="432.50" stroke="#3a3a3a" stroke-width="1.0"/>
<text transform="translate(540.97,441.40) scale(0.97,1)" font-size="9.3" text-anchor="middle" class="t">-20</text>
<line x1="547.83" y1="426.40" x2="547.83" y2="429.60" stroke="#3a3a3a" stroke-width="1.0"/>
<line x1="554.68" y1="426.40" x2="554.68" y2="429.60" stroke="#3a3a3a" stroke-width="1.0"/>
<line x1="561.53" y1="426.40" x2="561.53" y2="429.60" stroke="#3a3a3a" stroke-width="1.0"/>
<line x1="568.39" y1="426.40" x2="568.39" y2="432.50" stroke="#3a3a3a" stroke-width="1.0"/>
<text transform="translate(568.39,441.40) scale(0.97,1)" font-size="9.3" text-anchor="middle" class="t">0</text>
<line x1="575.24" y1="426.40" x2="575.24" y2="429.60" stroke="#3a3a3a" stroke-width="1.0"/>
<line x1="425.20" y1="426.40" x2="431.30" y2="426.40" stroke="#3a3a3a" stroke-width="1.0"/>
<text transform="translate(421.30,429.70) scale(0.97,1)" font-size="9.3" text-anchor="end" class="t">0.0</text>
<line x1="428.10" y1="423.93" x2="431.30" y2="423.93" stroke="#3a3a3a" stroke-width="1.0"/>
<line x1="428.10" y1="421.47" x2="431.30" y2="421.47" stroke="#3a3a3a" stroke-width="1.0"/>
<line x1="428.10" y1="419.00" x2="431.30" y2="419.00" stroke="#3a3a3a" stroke-width="1.0"/>
<line x1="428.10" y1="416.53" x2="431.30" y2="416.53" stroke="#3a3a3a" stroke-width="1.0"/>
<line x1="428.10" y1="414.06" x2="431.30" y2="414.06" stroke="#3a3a3a" stroke-width="1.0"/>
<line x1="428.10" y1="411.60" x2="431.30" y2="411.60" stroke="#3a3a3a" stroke-width="1.0"/>
<line x1="428.10" y1="409.13" x2="431.30" y2="409.13" stroke="#3a3a3a" stroke-width="1.0"/>
<line x1="428.10" y1="406.66" x2="431.30" y2="406.66" stroke="#3a3a3a" stroke-width="1.0"/>
<line x1="428.10" y1="404.19" x2="431.30" y2="404.19" stroke="#3a3a3a" stroke-width="1.0"/>
<line x1="425.20" y1="401.73" x2="431.30" y2="401.73" stroke="#3a3a3a" stroke-width="1.0"/>
<text transform="translate(421.30,405.03) scale(0.97,1)" font-size="9.3" text-anchor="end" class="t">0.1</text>
<line x1="428.10" y1="399.26" x2="431.30" y2="399.26" stroke="#3a3a3a" stroke-width="1.0"/>
<line x1="428.10" y1="396.79" x2="431.30" y2="396.79" stroke="#3a3a3a" stroke-width="1.0"/>
<line x1="428.10" y1="394.32" x2="431.30" y2="394.32" stroke="#3a3a3a" stroke-width="1.0"/>
<line x1="428.10" y1="391.86" x2="431.30" y2="391.86" stroke="#3a3a3a" stroke-width="1.0"/>
<line x1="428.10" y1="389.39" x2="431.30" y2="389.39" stroke="#3a3a3a" stroke-width="1.0"/>
<line x1="428.10" y1="386.92" x2="431.30" y2="386.92" stroke="#3a3a3a" stroke-width="1.0"/>
<line x1="428.10" y1="384.45" x2="431.30" y2="384.45" stroke="#3a3a3a" stroke-width="1.0"/>
<line x1="428.10" y1="381.99" x2="431.30" y2="381.99" stroke="#3a3a3a" stroke-width="1.0"/>
<line x1="428.10" y1="379.52" x2="431.30" y2="379.52" stroke="#3a3a3a" stroke-width="1.0"/>
<line x1="425.20" y1="377.05" x2="431.30" y2="377.05" stroke="#3a3a3a" stroke-width="1.0"/>
<text transform="translate(421.30,380.35) scale(0.97,1)" font-size="9.3" text-anchor="end" class="t">0.2</text>
<line x1="428.10" y1="374.58" x2="431.30" y2="374.58" stroke="#3a3a3a" stroke-width="1.0"/>
<line x1="428.10" y1="372.12" x2="431.30" y2="372.12" stroke="#3a3a3a" stroke-width="1.0"/>
<line x1="428.10" y1="369.65" x2="431.30" y2="369.65" stroke="#3a3a3a" stroke-width="1.0"/>
<line x1="428.10" y1="367.18" x2="431.30" y2="367.18" stroke="#3a3a3a" stroke-width="1.0"/>
<line x1="428.10" y1="364.71" x2="431.30" y2="364.71" stroke="#3a3a3a" stroke-width="1.0"/>
<line x1="428.10" y1="362.25" x2="431.30" y2="362.25" stroke="#3a3a3a" stroke-width="1.0"/>
<line x1="428.10" y1="359.78" x2="431.30" y2="359.78" stroke="#3a3a3a" stroke-width="1.0"/>
<line x1="428.10" y1="357.31" x2="431.30" y2="357.31" stroke="#3a3a3a" stroke-width="1.0"/>
<line x1="428.10" y1="354.84" x2="431.30" y2="354.84" stroke="#3a3a3a" stroke-width="1.0"/>
<line x1="425.20" y1="352.38" x2="431.30" y2="352.38" stroke="#3a3a3a" stroke-width="1.0"/>
<text transform="translate(421.30,355.68) scale(0.97,1)" font-size="9.3" text-anchor="end" class="t">0.3</text>
<line x1="428.10" y1="349.91" x2="431.30" y2="349.91" stroke="#3a3a3a" stroke-width="1.0"/>
<line x1="428.10" y1="347.44" x2="431.30" y2="347.44" stroke="#3a3a3a" stroke-width="1.0"/>
<line x1="428.10" y1="344.98" x2="431.30" y2="344.98" stroke="#3a3a3a" stroke-width="1.0"/>
<line x1="428.10" y1="342.51" x2="431.30" y2="342.51" stroke="#3a3a3a" stroke-width="1.0"/>
<line x1="428.10" y1="340.04" x2="431.30" y2="340.04" stroke="#3a3a3a" stroke-width="1.0"/>
<line x1="428.10" y1="337.57" x2="431.30" y2="337.57" stroke="#3a3a3a" stroke-width="1.0"/>
<line x1="428.10" y1="335.11" x2="431.30" y2="335.11" stroke="#3a3a3a" stroke-width="1.0"/>
<line x1="428.10" y1="332.64" x2="431.30" y2="332.64" stroke="#3a3a3a" stroke-width="1.0"/>
<line x1="428.10" y1="330.17" x2="431.30" y2="330.17" stroke="#3a3a3a" stroke-width="1.0"/>
<line x1="425.20" y1="327.70" x2="431.30" y2="327.70" stroke="#3a3a3a" stroke-width="1.0"/>
<text transform="translate(421.30,331.00) scale(0.97,1)" font-size="9.3" text-anchor="end" class="t">0.4</text>
<line x1="428.10" y1="325.24" x2="431.30" y2="325.24" stroke="#3a3a3a" stroke-width="1.0"/>
<line x1="428.10" y1="322.77" x2="431.30" y2="322.77" stroke="#3a3a3a" stroke-width="1.0"/>
<line x1="428.10" y1="320.30" x2="431.30" y2="320.30" stroke="#3a3a3a" stroke-width="1.0"/>
<line x1="428.10" y1="317.83" x2="431.30" y2="317.83" stroke="#3a3a3a" stroke-width="1.0"/>
<line x1="428.10" y1="315.37" x2="431.30" y2="315.37" stroke="#3a3a3a" stroke-width="1.0"/>
<line x1="428.10" y1="312.90" x2="431.30" y2="312.90" stroke="#3a3a3a" stroke-width="1.0"/>
<line x1="428.10" y1="310.43" x2="431.30" y2="310.43" stroke="#3a3a3a" stroke-width="1.0"/>
<line x1="428.10" y1="307.96" x2="431.30" y2="307.96" stroke="#3a3a3a" stroke-width="1.0"/>
<line x1="428.10" y1="305.50" x2="431.30" y2="305.50" stroke="#3a3a3a" stroke-width="1.0"/>
<line x1="425.20" y1="303.03" x2="431.30" y2="303.03" stroke="#3a3a3a" stroke-width="1.0"/>
<text transform="translate(421.30,306.33) scale(0.97,1)" font-size="9.3" text-anchor="end" class="t">0.5</text>
<line x1="428.10" y1="300.56" x2="431.30" y2="300.56" stroke="#3a3a3a" stroke-width="1.0"/>
<line x1="428.10" y1="298.09" x2="431.30" y2="298.09" stroke="#3a3a3a" stroke-width="1.0"/>
<line x1="428.10" y1="295.63" x2="431.30" y2="295.63" stroke="#3a3a3a" stroke-width="1.0"/>
<line x1="428.10" y1="293.16" x2="431.30" y2="293.16" stroke="#3a3a3a" stroke-width="1.0"/>
<line x1="428.10" y1="290.69" x2="431.30" y2="290.69" stroke="#3a3a3a" stroke-width="1.0"/>
<line x1="428.10" y1="288.22" x2="431.30" y2="288.22" stroke="#3a3a3a" stroke-width="1.0"/>
<line x1="428.10" y1="285.76" x2="431.30" y2="285.76" stroke="#3a3a3a" stroke-width="1.0"/>
<line x1="428.10" y1="283.29" x2="431.30" y2="283.29" stroke="#3a3a3a" stroke-width="1.0"/>
<line x1="428.10" y1="280.82" x2="431.30" y2="280.82" stroke="#3a3a3a" stroke-width="1.0"/>
<line x1="425.20" y1="278.36" x2="431.30" y2="278.36" stroke="#3a3a3a" stroke-width="1.0"/>
<text transform="translate(421.30,281.66) scale(0.97,1)" font-size="9.3" text-anchor="end" class="t">0.6</text>
<line x1="428.10" y1="275.89" x2="431.30" y2="275.89" stroke="#3a3a3a" stroke-width="1.0"/>
<line x1="428.10" y1="273.42" x2="431.30" y2="273.42" stroke="#3a3a3a" stroke-width="1.0"/>
<line x1="428.10" y1="270.95" x2="431.30" y2="270.95" stroke="#3a3a3a" stroke-width="1.0"/>
<line x1="428.10" y1="268.49" x2="431.30" y2="268.49" stroke="#3a3a3a" stroke-width="1.0"/>
<line x1="428.10" y1="266.02" x2="431.30" y2="266.02" stroke="#3a3a3a" stroke-width="1.0"/>
<text x="504.30" y="450.10" font-size="8.6" text-anchor="middle" class="t" textLength="84.5" lengthAdjust="spacingAndGlyphs">Mean relative error/%</text>
<text x="504.30" y="256.65" font-size="8.8" text-anchor="middle" class="t" textLength="35.2" lengthAdjust="spacingAndGlyphs">Sphere 6</text>
<text x="0" y="0" transform="translate(403.50,345.50) rotate(-90)" font-size="8.2" text-anchor="middle" class="t">CV/%</text>
<circle cx="45.10" cy="96.90" r="3.5" fill="#B22222"/>
<circle cx="65.40" cy="65.70" r="3.5" fill="#B22222"/>
<circle cx="84.30" cy="66.60" r="3.5" fill="#B22222"/>
<circle cx="95.30" cy="69.50" r="3.5" fill="#B22222"/>
<circle cx="96.24" cy="69.46" r="3.5" fill="#B22222"/>
<circle cx="97.18" cy="69.42" r="3.5" fill="#B22222"/>
<circle cx="98.12" cy="69.38" r="3.5" fill="#B22222"/>
<circle cx="99.06" cy="69.34" r="3.5" fill="#B22222"/>
<circle cx="100.00" cy="69.30" r="3.5" fill="#B22222"/>
<circle cx="100.83" cy="69.08" r="3.5" fill="#B22222"/>
<circle cx="101.67" cy="68.87" r="3.5" fill="#B22222"/>
<circle cx="102.50" cy="68.65" r="3.5" fill="#B22222"/>
<circle cx="103.33" cy="68.43" r="3.5" fill="#B22222"/>
<circle cx="104.17" cy="68.22" r="3.5" fill="#B22222"/>
<circle cx="105.00" cy="68.00" r="3.5" fill="#B22222"/>
<circle cx="105.83" cy="67.58" r="3.5" fill="#B22222"/>
<circle cx="106.67" cy="67.17" r="3.5" fill="#B22222"/>
<circle cx="107.50" cy="66.75" r="3.5" fill="#B22222"/>
<circle cx="108.33" cy="66.33" r="3.5" fill="#B22222"/>
<circle cx="109.17" cy="65.92" r="3.5" fill="#B22222"/>
<circle cx="110.00" cy="65.50" r="3.5" fill="#B22222"/>
<circle cx="110.71" cy="65.00" r="3.5" fill="#B22222"/>
<circle cx="111.43" cy="64.50" r="3.5" fill="#B22222"/>
<circle cx="112.14" cy="64.00" r="3.5" fill="#B22222"/>
<circle cx="112.86" cy="63.50" r="3.5" fill="#B22222"/>
<circle cx="113.57" cy="63.00" r="3.5" fill="#B22222"/>
<circle cx="114.29" cy="62.50" r="3.5" fill="#B22222"/>
<circle cx="115.00" cy="62.00" r="3.5" fill="#B22222"/>
<circle cx="115.67" cy="61.38" r="3.5" fill="#B22222"/>
<circle cx="116.33" cy="60.77" r="3.5" fill="#B22222"/>
<circle cx="117.00" cy="60.15" r="3.5" fill="#B22222"/>
<circle cx="117.67" cy="59.53" r="3.5" fill="#B22222"/>
<circle cx="118.33" cy="58.92" r="3.5" fill="#B22222"/>
<circle cx="119.00" cy="58.30" r="3.5" fill="#B22222"/>
<circle cx="119.62" cy="57.80" r="3.5" fill="#B22222"/>
<circle cx="120.25" cy="57.30" r="3.5" fill="#B22222"/>
<circle cx="120.88" cy="56.80" r="3.5" fill="#B22222"/>
<circle cx="121.50" cy="56.30" r="3.5" fill="#B22222"/>
<circle cx="122.12" cy="55.80" r="3.5" fill="#B22222"/>
<circle cx="122.75" cy="55.30" r="3.5" fill="#B22222"/>
<circle cx="123.38" cy="54.80" r="3.5" fill="#B22222"/>
<circle cx="124.00" cy="54.30" r="3.5" fill="#B22222"/>
<circle cx="124.80" cy="53.90" r="3.5" fill="#B22222"/>
<circle cx="264.00" cy="131.10" r="3.5" fill="#B22222"/>
<circle cx="300.40" cy="115.70" r="3.5" fill="#B22222"/>
<circle cx="315.90" cy="100.60" r="3.5" fill="#B22222"/>
<circle cx="322.50" cy="92.20" r="3.5" fill="#B22222"/>
<circle cx="325.80" cy="86.50" r="3.5" fill="#B22222"/>
<circle cx="326.13" cy="85.75" r="3.5" fill="#B22222"/>
<circle cx="326.47" cy="85.00" r="3.5" fill="#B22222"/>
<circle cx="326.80" cy="84.25" r="3.5" fill="#B22222"/>
<circle cx="327.13" cy="83.50" r="3.5" fill="#B22222"/>
<circle cx="327.47" cy="82.75" r="3.5" fill="#B22222"/>
<circle cx="327.80" cy="82.00" r="3.5" fill="#B22222"/>
<circle cx="328.10" cy="81.10" r="3.5" fill="#B22222"/>
<circle cx="328.40" cy="80.20" r="3.5" fill="#B22222"/>
<circle cx="328.70" cy="79.30" r="3.5" fill="#B22222"/>
<circle cx="329.00" cy="78.40" r="3.5" fill="#B22222"/>
<circle cx="329.30" cy="77.50" r="3.5" fill="#B22222"/>
<circle cx="329.54" cy="76.60" r="3.5" fill="#B22222"/>
<circle cx="329.78" cy="75.70" r="3.5" fill="#B22222"/>
<circle cx="330.02" cy="74.80" r="3.5" fill="#B22222"/>
<circle cx="330.26" cy="73.90" r="3.5" fill="#B22222"/>
<circle cx="330.50" cy="73.00" r="3.5" fill="#B22222"/>
<circle cx="330.70" cy="72.10" r="3.5" fill="#B22222"/>
<circle cx="330.90" cy="71.20" r="3.5" fill="#B22222"/>
<circle cx="331.10" cy="70.30" r="3.5" fill="#B22222"/>
<circle cx="331.30" cy="69.40" r="3.5" fill="#B22222"/>
<circle cx="331.50" cy="68.50" r="3.5" fill="#B22222"/>
<circle cx="331.70" cy="67.70" r="3.5" fill="#B22222"/>
<circle cx="331.90" cy="66.90" r="3.5" fill="#B22222"/>
<circle cx="332.10" cy="66.10" r="3.5" fill="#B22222"/>
<circle cx="332.30" cy="65.30" r="3.5" fill="#B22222"/>
<circle cx="332.50" cy="64.50" r="3.5" fill="#B22222"/>
<circle cx="333.00" cy="63.67" r="3.5" fill="#B22222"/>
<circle cx="333.50" cy="62.83" r="3.5" fill="#B22222"/>
<circle cx="334.00" cy="62.00" r="3.5" fill="#B22222"/>
<circle cx="334.85" cy="62.25" r="3.5" fill="#B22222"/>
<circle cx="335.70" cy="62.50" r="3.5" fill="#B22222"/>
<circle cx="336.07" cy="63.40" r="3.5" fill="#B22222"/>
<circle cx="336.43" cy="64.30" r="3.5" fill="#B22222"/>
<circle cx="336.80" cy="65.20" r="3.5" fill="#B22222"/>
<circle cx="336.80" cy="66.15" r="3.5" fill="#B22222"/>
<circle cx="336.80" cy="67.10" r="3.5" fill="#B22222"/>
<circle cx="336.80" cy="68.05" r="3.5" fill="#B22222"/>
<circle cx="336.80" cy="69.00" r="3.5" fill="#B22222"/>
<circle cx="499.50" cy="110.30" r="3.5" fill="#B22222"/>
<circle cx="524.50" cy="127.80" r="3.5" fill="#B22222"/>
<circle cx="528.50" cy="129.00" r="3.5" fill="#B22222"/>
<circle cx="529.50" cy="129.25" r="3.5" fill="#B22222"/>
<circle cx="530.50" cy="129.50" r="3.5" fill="#B22222"/>
<circle cx="531.50" cy="129.50" r="3.5" fill="#B22222"/>
<circle cx="532.50" cy="129.50" r="3.5" fill="#B22222"/>
<circle cx="533.27" cy="128.83" r="3.5" fill="#B22222"/>
<circle cx="534.03" cy="128.17" r="3.5" fill="#B22222"/>
<circle cx="534.80" cy="127.50" r="3.5" fill="#B22222"/>
<circle cx="534.97" cy="126.71" r="3.5" fill="#B22222"/>
<circle cx="535.14" cy="125.93" r="3.5" fill="#B22222"/>
<circle cx="535.31" cy="125.14" r="3.5" fill="#B22222"/>
<circle cx="535.49" cy="124.36" r="3.5" fill="#B22222"/>
<circle cx="535.66" cy="123.57" r="3.5" fill="#B22222"/>
<circle cx="535.83" cy="122.79" r="3.5" fill="#B22222"/>
<circle cx="536.00" cy="122.00" r="3.5" fill="#B22222"/>
<circle cx="536.08" cy="121.17" r="3.5" fill="#B22222"/>
<circle cx="536.17" cy="120.33" r="3.5" fill="#B22222"/>
<circle cx="536.25" cy="119.50" r="3.5" fill="#B22222"/>
<circle cx="536.33" cy="118.67" r="3.5" fill="#B22222"/>
<circle cx="536.42" cy="117.83" r="3.5" fill="#B22222"/>
<circle cx="536.50" cy="117.00" r="3.5" fill="#B22222"/>
<circle cx="536.58" cy="116.17" r="3.5" fill="#B22222"/>
<circle cx="536.67" cy="115.33" r="3.5" fill="#B22222"/>
<circle cx="536.75" cy="114.50" r="3.5" fill="#B22222"/>
<circle cx="536.83" cy="113.67" r="3.5" fill="#B22222"/>
<circle cx="536.92" cy="112.83" r="3.5" fill="#B22222"/>
<circle cx="537.00" cy="112.00" r="3.5" fill="#B22222"/>
<circle cx="537.06" cy="111.20" r="3.5" fill="#B22222"/>
<circle cx="537.12" cy="110.40" r="3.5" fill="#B22222"/>
<circle cx="537.18" cy="109.60" r="3.5" fill="#B22222"/>
<circle cx="537.24" cy="108.80" r="3.5" fill="#B22222"/>
<circle cx="537.30" cy="108.00" r="3.5" fill="#B22222"/>
<circle cx="537.36" cy="107.20" r="3.5" fill="#B22222"/>
<circle cx="537.42" cy="106.40" r="3.5" fill="#B22222"/>
<circle cx="537.48" cy="105.60" r="3.5" fill="#B22222"/>
<circle cx="537.54" cy="104.80" r="3.5" fill="#B22222"/>
<circle cx="537.60" cy="104.00" r="3.5" fill="#B22222"/>
<circle cx="537.66" cy="103.20" r="3.5" fill="#B22222"/>
<circle cx="537.72" cy="102.40" r="3.5" fill="#B22222"/>
<circle cx="537.78" cy="101.60" r="3.5" fill="#B22222"/>
<circle cx="537.84" cy="100.80" r="3.5" fill="#B22222"/>
<circle cx="537.90" cy="100.00" r="3.5" fill="#B22222"/>
<circle cx="537.96" cy="99.17" r="3.5" fill="#B22222"/>
<circle cx="538.01" cy="98.33" r="3.5" fill="#B22222"/>
<circle cx="538.07" cy="97.50" r="3.5" fill="#B22222"/>
<circle cx="538.12" cy="96.67" r="3.5" fill="#B22222"/>
<circle cx="538.18" cy="95.83" r="3.5" fill="#B22222"/>
<circle cx="538.23" cy="95.00" r="3.5" fill="#B22222"/>
<circle cx="538.29" cy="94.17" r="3.5" fill="#B22222"/>
<circle cx="538.34" cy="93.33" r="3.5" fill="#B22222"/>
<circle cx="538.40" cy="92.50" r="3.5" fill="#B22222"/>
<circle cx="538.46" cy="91.67" r="3.5" fill="#B22222"/>
<circle cx="538.51" cy="90.83" r="3.5" fill="#B22222"/>
<circle cx="538.57" cy="90.00" r="3.5" fill="#B22222"/>
<circle cx="538.62" cy="89.17" r="3.5" fill="#B22222"/>
<circle cx="538.68" cy="88.33" r="3.5" fill="#B22222"/>
<circle cx="538.73" cy="87.50" r="3.5" fill="#B22222"/>
<circle cx="538.79" cy="86.67" r="3.5" fill="#B22222"/>
<circle cx="538.84" cy="85.83" r="3.5" fill="#B22222"/>
<circle cx="538.90" cy="85.00" r="3.5" fill="#B22222"/>
<circle cx="538.95" cy="84.17" r="3.5" fill="#B22222"/>
<circle cx="539.00" cy="83.33" r="3.5" fill="#B22222"/>
<circle cx="539.05" cy="82.50" r="3.5" fill="#B22222"/>
<circle cx="539.10" cy="81.67" r="3.5" fill="#B22222"/>
<circle cx="539.15" cy="80.83" r="3.5" fill="#B22222"/>
<circle cx="539.20" cy="80.00" r="3.5" fill="#B22222"/>
<circle cx="539.25" cy="79.17" r="3.5" fill="#B22222"/>
<circle cx="539.30" cy="78.33" r="3.5" fill="#B22222"/>
<circle cx="539.35" cy="77.50" r="3.5" fill="#B22222"/>
<circle cx="539.40" cy="76.67" r="3.5" fill="#B22222"/>
<circle cx="539.45" cy="75.83" r="3.5" fill="#B22222"/>
<circle cx="539.50" cy="75.00" r="3.5" fill="#B22222"/>
<circle cx="539.55" cy="74.17" r="3.5" fill="#B22222"/>
<circle cx="539.60" cy="73.33" r="3.5" fill="#B22222"/>
<circle cx="539.65" cy="72.50" r="3.5" fill="#B22222"/>
<circle cx="539.70" cy="71.67" r="3.5" fill="#B22222"/>
<circle cx="539.75" cy="70.83" r="3.5" fill="#B22222"/>
<circle cx="539.80" cy="70.00" r="3.5" fill="#B22222"/>
<circle cx="539.84" cy="69.17" r="3.5" fill="#B22222"/>
<circle cx="539.88" cy="68.33" r="3.5" fill="#B22222"/>
<circle cx="539.92" cy="67.50" r="3.5" fill="#B22222"/>
<circle cx="539.96" cy="66.67" r="3.5" fill="#B22222"/>
<circle cx="539.99" cy="65.83" r="3.5" fill="#B22222"/>
<circle cx="540.03" cy="65.00" r="3.5" fill="#B22222"/>
<circle cx="540.07" cy="64.17" r="3.5" fill="#B22222"/>
<circle cx="540.11" cy="63.33" r="3.5" fill="#B22222"/>
<circle cx="540.15" cy="62.50" r="3.5" fill="#B22222"/>
<circle cx="540.19" cy="61.67" r="3.5" fill="#B22222"/>
<circle cx="540.23" cy="60.83" r="3.5" fill="#B22222"/>
<circle cx="540.27" cy="60.00" r="3.5" fill="#B22222"/>
<circle cx="540.31" cy="59.17" r="3.5" fill="#B22222"/>
<circle cx="540.34" cy="58.33" r="3.5" fill="#B22222"/>
<circle cx="540.38" cy="57.50" r="3.5" fill="#B22222"/>
<circle cx="540.42" cy="56.67" r="3.5" fill="#B22222"/>
<circle cx="540.46" cy="55.83" r="3.5" fill="#B22222"/>
<circle cx="540.50" cy="55.00" r="3.5" fill="#B22222"/>
<circle cx="540.54" cy="54.17" r="3.5" fill="#B22222"/>
<circle cx="540.58" cy="53.33" r="3.5" fill="#B22222"/>
<circle cx="540.62" cy="52.50" r="3.5" fill="#B22222"/>
<circle cx="540.67" cy="51.67" r="3.5" fill="#B22222"/>
<circle cx="540.71" cy="50.83" r="3.5" fill="#B22222"/>
<circle cx="540.75" cy="50.00" r="3.5" fill="#B22222"/>
<circle cx="540.79" cy="49.17" r="3.5" fill="#B22222"/>
<circle cx="540.83" cy="48.33" r="3.5" fill="#B22222"/>
<circle cx="540.88" cy="47.50" r="3.5" fill="#B22222"/>
<circle cx="540.92" cy="46.67" r="3.5" fill="#B22222"/>
<circle cx="540.96" cy="45.83" r="3.5" fill="#B22222"/>
<circle cx="541.00" cy="45.00" r="3.5" fill="#B22222"/>
<circle cx="123.00" cy="348.20" r="3.5" fill="#B22222"/>
<circle cx="136.10" cy="345.10" r="3.5" fill="#B22222"/>
<circle cx="136.78" cy="344.62" r="3.5" fill="#B22222"/>
<circle cx="137.45" cy="344.15" r="3.5" fill="#B22222"/>
<circle cx="138.12" cy="343.68" r="3.5" fill="#B22222"/>
<circle cx="138.80" cy="343.20" r="3.5" fill="#B22222"/>
<circle cx="139.17" cy="342.37" r="3.5" fill="#B22222"/>
<circle cx="139.53" cy="341.53" r="3.5" fill="#B22222"/>
<circle cx="139.90" cy="340.70" r="3.5" fill="#B22222"/>
<circle cx="140.27" cy="339.87" r="3.5" fill="#B22222"/>
<circle cx="140.63" cy="339.03" r="3.5" fill="#B22222"/>
<circle cx="141.00" cy="338.20" r="3.5" fill="#B22222"/>
<circle cx="141.15" cy="337.40" r="3.5" fill="#B22222"/>
<circle cx="141.31" cy="336.60" r="3.5" fill="#B22222"/>
<circle cx="141.46" cy="335.80" r="3.5" fill="#B22222"/>
<circle cx="141.62" cy="335.00" r="3.5" fill="#B22222"/>
<circle cx="141.77" cy="334.20" r="3.5" fill="#B22222"/>
<circle cx="141.93" cy="333.40" r="3.5" fill="#B22222"/>
<circle cx="142.08" cy="332.60" r="3.5" fill="#B22222"/>
<circle cx="142.24" cy="331.80" r="3.5" fill="#B22222"/>
<circle cx="142.39" cy="331.00" r="3.5" fill="#B22222"/>
<circle cx="142.55" cy="330.20" r="3.5" fill="#B22222"/>
<circle cx="142.70" cy="329.40" r="3.5" fill="#B22222"/>
<circle cx="142.82" cy="328.61" r="3.5" fill="#B22222"/>
<circle cx="142.94" cy="327.81" r="3.5" fill="#B22222"/>
<circle cx="143.06" cy="327.02" r="3.5" fill="#B22222"/>
<circle cx="143.19" cy="326.23" r="3.5" fill="#B22222"/>
<circle cx="143.31" cy="325.44" r="3.5" fill="#B22222"/>
<circle cx="143.43" cy="324.64" r="3.5" fill="#B22222"/>
<circle cx="143.55" cy="323.85" r="3.5" fill="#B22222"/>
<circle cx="143.67" cy="323.06" r="3.5" fill="#B22222"/>
<circle cx="143.79" cy="322.26" r="3.5" fill="#B22222"/>
<circle cx="143.91" cy="321.47" r="3.5" fill="#B22222"/>
<circle cx="144.04" cy="320.68" r="3.5" fill="#B22222"/>
<circle cx="144.16" cy="319.89" r="3.5" fill="#B22222"/>
<circle cx="144.28" cy="319.09" r="3.5" fill="#B22222"/>
<circle cx="144.40" cy="318.30" r="3.5" fill="#B22222"/>
<circle cx="144.51" cy="317.51" r="3.5" fill="#B22222"/>
<circle cx="144.63" cy="316.71" r="3.5" fill="#B22222"/>
<circle cx="144.74" cy="315.92" r="3.5" fill="#B22222"/>
<circle cx="144.86" cy="315.13" r="3.5" fill="#B22222"/>
<circle cx="144.97" cy="314.34" r="3.5" fill="#B22222"/>
<circle cx="145.09" cy="313.54" r="3.5" fill="#B22222"/>
<circle cx="145.20" cy="312.75" r="3.5" fill="#B22222"/>
<circle cx="145.31" cy="311.96" r="3.5" fill="#B22222"/>
<circle cx="145.43" cy="311.16" r="3.5" fill="#B22222"/>
<circle cx="145.54" cy="310.37" r="3.5" fill="#B22222"/>
<circle cx="145.66" cy="309.58" r="3.5" fill="#B22222"/>
<circle cx="145.77" cy="308.79" r="3.5" fill="#B22222"/>
<circle cx="145.89" cy="307.99" r="3.5" fill="#B22222"/>
<circle cx="146.00" cy="307.20" r="3.5" fill="#B22222"/>
<circle cx="146.13" cy="306.37" r="3.5" fill="#B22222"/>
<circle cx="146.27" cy="305.53" r="3.5" fill="#B22222"/>
<circle cx="146.40" cy="304.70" r="3.5" fill="#B22222"/>
<circle cx="146.53" cy="303.87" r="3.5" fill="#B22222"/>
<circle cx="146.67" cy="303.03" r="3.5" fill="#B22222"/>
<circle cx="146.80" cy="302.20" r="3.5" fill="#B22222"/>
<circle cx="146.93" cy="301.37" r="3.5" fill="#B22222"/>
<circle cx="147.07" cy="300.53" r="3.5" fill="#B22222"/>
<circle cx="147.20" cy="299.70" r="3.5" fill="#B22222"/>
<circle cx="332.80" cy="304.00" r="3.5" fill="#B22222"/>
<circle cx="344.60" cy="301.70" r="3.5" fill="#B22222"/>
<circle cx="345.40" cy="301.30" r="3.5" fill="#B22222"/>
<circle cx="346.20" cy="300.90" r="3.5" fill="#B22222"/>
<circle cx="347.00" cy="300.50" r="3.5" fill="#B22222"/>
<circle cx="347.62" cy="300.00" r="3.5" fill="#B22222"/>
<circle cx="348.25" cy="299.50" r="3.5" fill="#B22222"/>
<circle cx="348.88" cy="299.00" r="3.5" fill="#B22222"/>
<circle cx="349.50" cy="298.50" r="3.5" fill="#B22222"/>
<circle cx="350.00" cy="297.88" r="3.5" fill="#B22222"/>
<circle cx="350.50" cy="297.25" r="3.5" fill="#B22222"/>
<circle cx="351.00" cy="296.62" r="3.5" fill="#B22222"/>
<circle cx="351.50" cy="296.00" r="3.5" fill="#B22222"/>
<circle cx="352.00" cy="295.30" r="3.5" fill="#B22222"/>
<circle cx="352.50" cy="294.60" r="3.5" fill="#B22222"/>
<circle cx="353.00" cy="293.90" r="3.5" fill="#B22222"/>
<circle cx="353.50" cy="293.20" r="3.5" fill="#B22222"/>
<circle cx="354.15" cy="292.60" r="3.5" fill="#B22222"/>
<circle cx="354.80" cy="292.00" r="3.5" fill="#B22222"/>
<circle cx="541.00" cy="352.10" r="3.5" fill="#B22222"/>
<circle cx="550.30" cy="355.80" r="3.5" fill="#B22222"/>
<circle cx="550.80" cy="356.43" r="3.5" fill="#B22222"/>
<circle cx="551.30" cy="357.07" r="3.5" fill="#B22222"/>
<circle cx="551.80" cy="357.70" r="3.5" fill="#B22222"/>
<circle cx="552.30" cy="358.33" r="3.5" fill="#B22222"/>
<circle cx="552.80" cy="358.97" r="3.5" fill="#B22222"/>
<circle cx="553.30" cy="359.60" r="3.5" fill="#B22222"/>
<circle cx="553.40" cy="360.42" r="3.5" fill="#B22222"/>
<circle cx="553.50" cy="361.23" r="3.5" fill="#B22222"/>
<circle cx="553.60" cy="362.05" r="3.5" fill="#B22222"/>
<circle cx="553.70" cy="362.87" r="3.5" fill="#B22222"/>
<circle cx="553.80" cy="363.68" r="3.5" fill="#B22222"/>
<circle cx="553.90" cy="364.50" r="3.5" fill="#B22222"/>
<circle cx="554.00" cy="365.32" r="3.5" fill="#B22222"/>
<circle cx="554.10" cy="366.13" r="3.5" fill="#B22222"/>
<circle cx="554.20" cy="366.95" r="3.5" fill="#B22222"/>
<circle cx="554.30" cy="367.77" r="3.5" fill="#B22222"/>
<circle cx="554.40" cy="368.58" r="3.5" fill="#B22222"/>
<circle cx="554.50" cy="369.40" r="3.5" fill="#B22222"/>
<circle cx="554.58" cy="370.21" r="3.5" fill="#B22222"/>
<circle cx="554.66" cy="371.03" r="3.5" fill="#B22222"/>
<circle cx="554.74" cy="371.84" r="3.5" fill="#B22222"/>
<circle cx="554.82" cy="372.65" r="3.5" fill="#B22222"/>
<circle cx="554.90" cy="373.47" r="3.5" fill="#B22222"/>
<circle cx="554.98" cy="374.28" r="3.5" fill="#B22222"/>
<circle cx="555.06" cy="375.09" r="3.5" fill="#B22222"/>
<circle cx="555.14" cy="375.91" r="3.5" fill="#B22222"/>
<circle cx="555.22" cy="376.72" r="3.5" fill="#B22222"/>
<circle cx="555.30" cy="377.53" r="3.5" fill="#B22222"/>
<circle cx="555.38" cy="378.35" r="3.5" fill="#B22222"/>
<circle cx="555.46" cy="379.16" r="3.5" fill="#B22222"/>
<circle cx="555.54" cy="379.97" r="3.5" fill="#B22222"/>
<circle cx="555.62" cy="380.79" r="3.5" fill="#B22222"/>
<circle cx="555.70" cy="381.60" r="3.5" fill="#B22222"/>
<circle cx="555.79" cy="382.43" r="3.5" fill="#B22222"/>
<circle cx="555.88" cy="383.25" r="3.5" fill="#B22222"/>
<circle cx="555.96" cy="384.08" r="3.5" fill="#B22222"/>
<circle cx="556.05" cy="384.90" r="3.5" fill="#B22222"/>
<circle cx="556.14" cy="385.73" r="3.5" fill="#B22222"/>
<circle cx="556.23" cy="386.55" r="3.5" fill="#B22222"/>
<circle cx="556.31" cy="387.38" r="3.5" fill="#B22222"/>
<circle cx="556.40" cy="388.20" r="3.5" fill="#B22222"/>
<circle cx="556.49" cy="389.03" r="3.5" fill="#B22222"/>
<circle cx="556.58" cy="389.85" r="3.5" fill="#B22222"/>
<circle cx="556.66" cy="390.68" r="3.5" fill="#B22222"/>
<circle cx="556.75" cy="391.50" r="3.5" fill="#B22222"/>
<circle cx="556.84" cy="392.32" r="3.5" fill="#B22222"/>
<circle cx="556.93" cy="393.15" r="3.5" fill="#B22222"/>
<circle cx="557.01" cy="393.98" r="3.5" fill="#B22222"/>
<circle cx="557.10" cy="394.80" r="3.5" fill="#B22222"/>
<polygon points="51.15,122.60 49.27,119.35 45.52,119.35 43.65,122.60 45.52,125.85 49.27,125.85" fill="#2E8B57"/>
<polygon points="69.55,79.60 67.67,76.35 63.92,76.35 62.05,79.60 63.92,82.85 67.67,82.85" fill="#2E8B57"/>
<polygon points="85.65,70.00 83.78,66.75 80.03,66.75 78.15,70.00 80.03,73.25 83.78,73.25" fill="#2E8B57"/>
<polygon points="94.25,67.10 92.38,63.85 88.62,63.85 86.75,67.10 88.62,70.35 92.38,70.35" fill="#2E8B57"/>
<polygon points="98.25,64.90 96.38,61.65 92.62,61.65 90.75,64.90 92.62,68.15 96.38,68.15" fill="#2E8B57"/>
<polygon points="98.92,64.34 97.05,61.09 93.30,61.09 91.42,64.34 93.30,67.59 97.05,67.59" fill="#2E8B57"/>
<polygon points="99.60,63.78 97.72,60.53 93.97,60.53 92.10,63.78 93.97,67.02 97.72,67.02" fill="#2E8B57"/>
<polygon points="100.28,63.21 98.40,59.96 94.65,59.96 92.78,63.21 94.65,66.46 98.40,66.46" fill="#2E8B57"/>
<polygon points="100.95,62.65 99.08,59.40 95.33,59.40 93.45,62.65 95.33,65.90 99.08,65.90" fill="#2E8B57"/>
<polygon points="101.62,62.09 99.75,58.84 96.00,58.84 94.12,62.09 96.00,65.34 99.75,65.34" fill="#2E8B57"/>
<polygon points="102.30,61.52 100.43,58.28 96.68,58.28 94.80,61.52 96.68,64.77 100.43,64.77" fill="#2E8B57"/>
<polygon points="102.98,60.96 101.10,57.71 97.35,57.71 95.48,60.96 97.35,64.21 101.10,64.21" fill="#2E8B57"/>
<polygon points="103.65,60.40 101.78,57.15 98.03,57.15 96.15,60.40 98.03,63.65 101.78,63.65" fill="#2E8B57"/>
<polygon points="104.28,59.90 102.40,56.65 98.65,56.65 96.78,59.90 98.65,63.15 102.40,63.15" fill="#2E8B57"/>
<polygon points="104.91,59.40 103.03,56.15 99.28,56.15 97.41,59.40 99.28,62.65 103.03,62.65" fill="#2E8B57"/>
<polygon points="105.54,58.90 103.66,55.65 99.91,55.65 98.04,58.90 99.91,62.15 103.66,62.15" fill="#2E8B57"/>
<polygon points="106.16,58.40 104.29,55.15 100.54,55.15 98.66,58.40 100.54,61.65 104.29,61.65" fill="#2E8B57"/>
<polygon points="106.79,57.90 104.92,54.65 101.17,54.65 99.29,57.90 101.17,61.15 104.92,61.15" fill="#2E8B57"/>
<polygon points="107.42,57.40 105.55,54.15 101.80,54.15 99.92,57.40 101.80,60.65 105.55,60.65" fill="#2E8B57"/>
<polygon points="108.05,56.90 106.17,53.65 102.42,53.65 100.55,56.90 102.42,60.15 106.17,60.15" fill="#2E8B57"/>
<polygon points="108.92,56.67 107.05,53.43 103.30,53.43 101.42,56.67 103.30,59.92 107.05,59.92" fill="#2E8B57"/>
<polygon points="109.80,56.45 107.92,53.20 104.17,53.20 102.30,56.45 104.17,59.70 107.92,59.70" fill="#2E8B57"/>
<polygon points="110.67,56.23 108.80,52.98 105.05,52.98 103.17,56.23 105.05,59.47 108.80,59.47" fill="#2E8B57"/>
<polygon points="111.55,56.00 109.67,52.75 105.92,52.75 104.05,56.00 105.92,59.25 109.67,59.25" fill="#2E8B57"/>
<polygon points="112.45,56.13 110.58,52.89 106.83,52.89 104.95,56.13 106.83,59.38 110.58,59.38" fill="#2E8B57"/>
<polygon points="113.35,56.27 111.47,53.02 107.72,53.02 105.85,56.27 107.72,59.51 111.47,59.51" fill="#2E8B57"/>
<polygon points="114.25,56.40 112.38,53.15 108.62,53.15 106.75,56.40 108.62,59.65 112.38,59.65" fill="#2E8B57"/>
<polygon points="114.92,57.08 113.05,53.83 109.30,53.83 107.42,57.08 109.30,60.32 113.05,60.32" fill="#2E8B57"/>
<polygon points="115.60,57.75 113.72,54.50 109.97,54.50 108.10,57.75 109.97,61.00 113.72,61.00" fill="#2E8B57"/>
<polygon points="116.28,58.42 114.40,55.18 110.65,55.18 108.78,58.42 110.65,61.67 114.40,61.67" fill="#2E8B57"/>
<polygon points="116.95,59.10 115.08,55.85 111.33,55.85 109.45,59.10 111.33,62.35 115.08,62.35" fill="#2E8B57"/>
<polygon points="117.47,59.90 115.59,56.65 111.84,56.65 109.97,59.90 111.84,63.15 115.59,63.15" fill="#2E8B57"/>
<polygon points="117.99,60.70 116.11,57.45 112.36,57.45 110.49,60.70 112.36,63.95 116.11,63.95" fill="#2E8B57"/>
<polygon points="118.51,61.50 116.64,58.25 112.89,58.25 111.01,61.50 112.89,64.75 116.64,64.75" fill="#2E8B57"/>
<polygon points="119.03,62.30 117.16,59.05 113.41,59.05 111.53,62.30 113.41,65.55 117.16,65.55" fill="#2E8B57"/>
<polygon points="119.55,63.10 117.67,59.85 113.92,59.85 112.05,63.10 113.92,66.35 117.67,66.35" fill="#2E8B57"/>
<polygon points="120.45,64.40 118.58,61.15 114.83,61.15 112.95,64.40 114.83,67.65 118.58,67.65" fill="#2E8B57"/>
<polygon points="271.05,97.90 269.18,94.65 265.43,94.65 263.55,97.90 265.43,101.15 269.18,101.15" fill="#2E8B57"/>
<polygon points="303.05,108.90 301.18,105.65 297.43,105.65 295.55,108.90 297.43,112.15 301.18,112.15" fill="#2E8B57"/>
<polygon points="317.45,90.00 315.57,86.75 311.82,86.75 309.95,90.00 311.82,93.25 315.57,93.25" fill="#2E8B57"/>
<polygon points="323.45,76.90 321.57,73.65 317.82,73.65 315.95,76.90 317.82,80.15 321.57,80.15" fill="#2E8B57"/>
<polygon points="326.75,67.30 324.88,64.05 321.12,64.05 319.25,67.30 321.12,70.55 324.88,70.55" fill="#2E8B57"/>
<polygon points="328.05,61.10 326.18,57.85 322.43,57.85 320.55,61.10 322.43,64.35 326.18,64.35" fill="#2E8B57"/>
<polygon points="328.95,57.10 327.07,53.85 323.32,53.85 321.45,57.10 323.32,60.35 327.07,60.35" fill="#2E8B57"/>
<polygon points="329.11,56.28 327.24,53.03 323.49,53.03 321.61,56.28 323.49,59.53 327.24,59.53" fill="#2E8B57"/>
<polygon points="329.27,55.46 327.39,52.21 323.64,52.21 321.77,55.46 323.64,58.71 327.39,58.71" fill="#2E8B57"/>
<polygon points="329.43,54.64 327.56,51.39 323.81,51.39 321.93,54.64 323.81,57.89 327.56,57.89" fill="#2E8B57"/>
<polygon points="329.59,53.82 327.71,50.57 323.96,50.57 322.09,53.82 323.96,57.07 327.71,57.07" fill="#2E8B57"/>
<polygon points="329.75,53.00 327.88,49.75 324.12,49.75 322.25,53.00 324.12,56.25 327.88,56.25" fill="#2E8B57"/>
<polygon points="330.05,52.20 328.18,48.95 324.43,48.95 322.55,52.20 324.43,55.45 328.18,55.45" fill="#2E8B57"/>
<polygon points="330.35,51.40 328.48,48.15 324.73,48.15 322.85,51.40 324.73,54.65 328.48,54.65" fill="#2E8B57"/>
<polygon points="330.65,50.60 328.77,47.35 325.02,47.35 323.15,50.60 325.02,53.85 328.77,53.85" fill="#2E8B57"/>
<polygon points="330.95,49.80 329.07,46.55 325.32,46.55 323.45,49.80 325.32,53.05 329.07,53.05" fill="#2E8B57"/>
<polygon points="331.25,49.00 329.38,45.75 325.62,45.75 323.75,49.00 325.62,52.25 329.38,52.25" fill="#2E8B57"/>
<polygon points="331.62,48.17 329.75,44.93 326.00,44.93 324.12,48.17 326.00,51.42 329.75,51.42" fill="#2E8B57"/>
<polygon points="332.00,47.35 330.12,44.10 326.38,44.10 324.50,47.35 326.38,50.60 330.12,50.60" fill="#2E8B57"/>
<polygon points="332.38,46.53 330.50,43.28 326.75,43.28 324.88,46.53 326.75,49.77 330.50,49.77" fill="#2E8B57"/>
<polygon points="332.75,45.70 330.88,42.45 327.12,42.45 325.25,45.70 327.12,48.95 330.88,48.95" fill="#2E8B57"/>
<polygon points="334.25,45.70 332.38,42.45 328.62,42.45 326.75,45.70 328.62,48.95 332.38,48.95" fill="#2E8B57"/>
<polygon points="334.75,46.47 332.88,43.22 329.12,43.22 327.25,46.47 329.12,49.71 332.88,49.71" fill="#2E8B57"/>
<polygon points="335.25,47.23 333.38,43.99 329.62,43.99 327.75,47.23 329.62,50.48 333.38,50.48" fill="#2E8B57"/>
<polygon points="335.75,48.00 333.88,44.75 330.12,44.75 328.25,48.00 330.12,51.25 333.88,51.25" fill="#2E8B57"/>
<polygon points="336.00,48.88 334.12,45.63 330.38,45.63 328.50,48.88 330.38,52.12 334.12,52.12" fill="#2E8B57"/>
<polygon points="336.25,49.75 334.38,46.50 330.62,46.50 328.75,49.75 330.62,53.00 334.38,53.00" fill="#2E8B57"/>
<polygon points="336.50,50.62 334.62,47.38 330.88,47.38 329.00,50.62 330.88,53.87 334.62,53.87" fill="#2E8B57"/>
<polygon points="336.75,51.50 334.88,48.25 331.12,48.25 329.25,51.50 331.12,54.75 334.88,54.75" fill="#2E8B57"/>
<polygon points="336.85,52.50 334.98,49.25 331.23,49.25 329.35,52.50 331.23,55.75 334.98,55.75" fill="#2E8B57"/>
<polygon points="336.95,53.50 335.07,50.25 331.32,50.25 329.45,53.50 331.32,56.75 335.07,56.75" fill="#2E8B57"/>
<polygon points="501.05,109.60 499.18,106.35 495.43,106.35 493.55,109.60 495.43,112.85 499.18,112.85" fill="#2E8B57"/>
<polygon points="525.95,112.30 524.08,109.05 520.33,109.05 518.45,112.30 520.33,115.55 524.08,115.55" fill="#2E8B57"/>
<polygon points="531.55,117.50 529.67,114.25 525.92,114.25 524.05,117.50 525.92,120.75 529.67,120.75" fill="#2E8B57"/>
<polygon points="532.35,117.62 530.47,114.38 526.72,114.38 524.85,117.62 526.72,120.87 530.47,120.87" fill="#2E8B57"/>
<polygon points="533.15,117.75 531.27,114.50 527.52,114.50 525.65,117.75 527.52,121.00 531.27,121.00" fill="#2E8B57"/>
<polygon points="533.95,117.88 532.08,114.63 528.33,114.63 526.45,117.88 528.33,121.12 532.08,121.12" fill="#2E8B57"/>
<polygon points="534.75,118.00 532.88,114.75 529.12,114.75 527.25,118.00 529.12,121.25 532.88,121.25" fill="#2E8B57"/>
<polygon points="535.12,117.25 533.25,114.00 529.50,114.00 527.62,117.25 529.50,120.50 533.25,120.50" fill="#2E8B57"/>
<polygon points="535.50,116.50 533.62,113.25 529.88,113.25 528.00,116.50 529.88,119.75 533.62,119.75" fill="#2E8B57"/>
<polygon points="535.88,115.75 534.00,112.50 530.25,112.50 528.38,115.75 530.25,119.00 534.00,119.00" fill="#2E8B57"/>
<polygon points="536.25,115.00 534.38,111.75 530.62,111.75 528.75,115.00 530.62,118.25 534.38,118.25" fill="#2E8B57"/>
<polygon points="536.31,114.12 534.44,110.88 530.69,110.88 528.81,114.12 530.69,117.37 534.44,117.37" fill="#2E8B57"/>
<polygon points="536.38,113.25 534.50,110.00 530.75,110.00 528.88,113.25 530.75,116.50 534.50,116.50" fill="#2E8B57"/>
<polygon points="536.44,112.38 534.56,109.13 530.81,109.13 528.94,112.38 530.81,115.62 534.56,115.62" fill="#2E8B57"/>
<polygon points="536.50,111.50 534.62,108.25 530.88,108.25 529.00,111.50 530.88,114.75 534.62,114.75" fill="#2E8B57"/>
<polygon points="536.56,110.62 534.69,107.38 530.94,107.38 529.06,110.62 530.94,113.87 534.69,113.87" fill="#2E8B57"/>
<polygon points="536.62,109.75 534.75,106.50 531.00,106.50 529.12,109.75 531.00,113.00 534.75,113.00" fill="#2E8B57"/>
<polygon points="536.69,108.88 534.81,105.63 531.06,105.63 529.19,108.88 531.06,112.12 534.81,112.12" fill="#2E8B57"/>
<polygon points="536.75,108.00 534.88,104.75 531.12,104.75 529.25,108.00 531.12,111.25 534.88,111.25" fill="#2E8B57"/>
<polygon points="536.83,107.20 534.96,103.95 531.21,103.95 529.33,107.20 531.21,110.45 534.96,110.45" fill="#2E8B57"/>
<polygon points="536.91,106.40 535.03,103.15 531.28,103.15 529.41,106.40 531.28,109.65 535.03,109.65" fill="#2E8B57"/>
<polygon points="536.99,105.60 535.12,102.35 531.37,102.35 529.49,105.60 531.37,108.85 535.12,108.85" fill="#2E8B57"/>
<polygon points="537.07,104.80 535.19,101.55 531.44,101.55 529.57,104.80 531.44,108.05 535.19,108.05" fill="#2E8B57"/>
<polygon points="537.15,104.00 535.27,100.75 531.52,100.75 529.65,104.00 531.52,107.25 535.27,107.25" fill="#2E8B57"/>
<polygon points="537.23,103.20 535.36,99.95 531.61,99.95 529.73,103.20 531.61,106.45 535.36,106.45" fill="#2E8B57"/>
<polygon points="537.31,102.40 535.43,99.15 531.68,99.15 529.81,102.40 531.68,105.65 535.43,105.65" fill="#2E8B57"/>
<polygon points="537.39,101.60 535.51,98.35 531.76,98.35 529.89,101.60 531.76,104.85 535.51,104.85" fill="#2E8B57"/>
<polygon points="537.47,100.80 535.59,97.55 531.84,97.55 529.97,100.80 531.84,104.05 535.59,104.05" fill="#2E8B57"/>
<polygon points="537.55,100.00 535.67,96.75 531.92,96.75 530.05,100.00 531.92,103.25 535.67,103.25" fill="#2E8B57"/>
<polygon points="537.62,99.17 535.74,95.92 531.99,95.92 530.12,99.17 531.99,102.41 535.74,102.41" fill="#2E8B57"/>
<polygon points="537.68,98.33 535.81,95.09 532.06,95.09 530.18,98.33 532.06,101.58 535.81,101.58" fill="#2E8B57"/>
<polygon points="537.75,97.50 535.88,94.25 532.12,94.25 530.25,97.50 532.12,100.75 535.88,100.75" fill="#2E8B57"/>
<polygon points="537.82,96.67 535.94,93.42 532.19,93.42 530.32,96.67 532.19,99.91 535.94,99.91" fill="#2E8B57"/>
<polygon points="537.88,95.83 536.01,92.59 532.26,92.59 530.38,95.83 532.26,99.08 536.01,99.08" fill="#2E8B57"/>
<polygon points="537.95,95.00 536.08,91.75 532.33,91.75 530.45,95.00 532.33,98.25 536.08,98.25" fill="#2E8B57"/>
<polygon points="538.02,94.17 536.14,90.92 532.39,90.92 530.52,94.17 532.39,97.41 536.14,97.41" fill="#2E8B57"/>
<polygon points="538.08,93.33 536.21,90.09 532.46,90.09 530.58,93.33 532.46,96.58 536.21,96.58" fill="#2E8B57"/>
<polygon points="538.15,92.50 536.27,89.25 532.52,89.25 530.65,92.50 532.52,95.75 536.27,95.75" fill="#2E8B57"/>
<polygon points="538.22,91.67 536.34,88.42 532.59,88.42 530.72,91.67 532.59,94.91 536.34,94.91" fill="#2E8B57"/>
<polygon points="538.28,90.83 536.41,87.59 532.66,87.59 530.78,90.83 532.66,94.08 536.41,94.08" fill="#2E8B57"/>
<polygon points="538.35,90.00 536.48,86.75 532.73,86.75 530.85,90.00 532.73,93.25 536.48,93.25" fill="#2E8B57"/>
<polygon points="538.40,89.20 536.52,85.95 532.77,85.95 530.90,89.20 532.77,92.45 536.52,92.45" fill="#2E8B57"/>
<polygon points="538.44,88.40 536.57,85.15 532.82,85.15 530.94,88.40 532.82,91.65 536.57,91.65" fill="#2E8B57"/>
<polygon points="538.49,87.60 536.62,84.35 532.87,84.35 530.99,87.60 532.87,90.85 536.62,90.85" fill="#2E8B57"/>
<polygon points="538.54,86.80 536.66,83.55 532.91,83.55 531.04,86.80 532.91,90.05 536.66,90.05" fill="#2E8B57"/>
<polygon points="538.58,86.00 536.71,82.75 532.96,82.75 531.08,86.00 532.96,89.25 536.71,89.25" fill="#2E8B57"/>
<polygon points="538.63,85.20 536.75,81.95 533.00,81.95 531.13,85.20 533.00,88.45 536.75,88.45" fill="#2E8B57"/>
<polygon points="538.68,84.40 536.80,81.15 533.05,81.15 531.18,84.40 533.05,87.65 536.80,87.65" fill="#2E8B57"/>
<polygon points="538.72,83.60 536.85,80.35 533.10,80.35 531.22,83.60 533.10,86.85 536.85,86.85" fill="#2E8B57"/>
<polygon points="538.77,82.80 536.89,79.55 533.14,79.55 531.27,82.80 533.14,86.05 536.89,86.05" fill="#2E8B57"/>
<polygon points="538.82,82.00 536.94,78.75 533.19,78.75 531.32,82.00 533.19,85.25 536.94,85.25" fill="#2E8B57"/>
<polygon points="538.86,81.20 536.99,77.95 533.24,77.95 531.36,81.20 533.24,84.45 536.99,84.45" fill="#2E8B57"/>
<polygon points="538.91,80.40 537.03,77.15 533.28,77.15 531.41,80.40 533.28,83.65 537.03,83.65" fill="#2E8B57"/>
<polygon points="538.96,79.60 537.08,76.35 533.33,76.35 531.46,79.60 533.33,82.85 537.08,82.85" fill="#2E8B57"/>
<polygon points="539.00,78.80 537.13,75.55 533.38,75.55 531.50,78.80 533.38,82.05 537.13,82.05" fill="#2E8B57"/>
<polygon points="539.05,78.00 537.17,74.75 533.42,74.75 531.55,78.00 533.42,81.25 537.17,81.25" fill="#2E8B57"/>
<polygon points="539.11,77.19 537.23,73.94 533.48,73.94 531.61,77.19 533.48,80.44 537.23,80.44" fill="#2E8B57"/>
<polygon points="539.16,76.38 537.29,73.13 533.54,73.13 531.66,76.38 533.54,79.62 537.29,79.62" fill="#2E8B57"/>
<polygon points="539.22,75.56 537.34,72.31 533.59,72.31 531.72,75.56 533.59,78.81 537.34,78.81" fill="#2E8B57"/>
<polygon points="539.27,74.75 537.40,71.50 533.65,71.50 531.77,74.75 533.65,78.00 537.40,78.00" fill="#2E8B57"/>
<polygon points="539.33,73.94 537.46,70.69 533.71,70.69 531.83,73.94 533.71,77.19 537.46,77.19" fill="#2E8B57"/>
<polygon points="539.39,73.12 537.51,69.88 533.76,69.88 531.89,73.12 533.76,76.37 537.51,76.37" fill="#2E8B57"/>
<polygon points="539.44,72.31 537.57,69.06 533.82,69.06 531.94,72.31 533.82,75.56 537.57,75.56" fill="#2E8B57"/>
<polygon points="539.50,71.50 537.62,68.25 533.88,68.25 532.00,71.50 533.88,74.75 537.62,74.75" fill="#2E8B57"/>
<polygon points="539.56,70.69 537.68,67.44 533.93,67.44 532.06,70.69 533.93,73.94 537.68,73.94" fill="#2E8B57"/>
<polygon points="539.61,69.88 537.74,66.63 533.99,66.63 532.11,69.88 533.99,73.12 537.74,73.12" fill="#2E8B57"/>
<polygon points="539.67,69.06 537.79,65.81 534.04,65.81 532.17,69.06 534.04,72.31 537.79,72.31" fill="#2E8B57"/>
<polygon points="539.73,68.25 537.85,65.00 534.10,65.00 532.23,68.25 534.10,71.50 537.85,71.50" fill="#2E8B57"/>
<polygon points="539.78,67.44 537.91,64.19 534.16,64.19 532.28,67.44 534.16,70.69 537.91,70.69" fill="#2E8B57"/>
<polygon points="539.84,66.62 537.96,63.38 534.21,63.38 532.34,66.62 534.21,69.87 537.96,69.87" fill="#2E8B57"/>
<polygon points="539.89,65.81 538.02,62.56 534.27,62.56 532.39,65.81 534.27,69.06 538.02,69.06" fill="#2E8B57"/>
<polygon points="539.95,65.00 538.08,61.75 534.33,61.75 532.45,65.00 534.33,68.25 538.08,68.25" fill="#2E8B57"/>
<polygon points="540.02,64.17 538.14,60.92 534.39,60.92 532.52,64.17 534.39,67.41 538.14,67.41" fill="#2E8B57"/>
<polygon points="540.08,63.33 538.21,60.09 534.46,60.09 532.58,63.33 534.46,66.58 538.21,66.58" fill="#2E8B57"/>
<polygon points="540.15,62.50 538.28,59.25 534.53,59.25 532.65,62.50 534.53,65.75 538.28,65.75" fill="#2E8B57"/>
<polygon points="540.22,61.67 538.34,58.42 534.59,58.42 532.72,61.67 534.59,64.91 538.34,64.91" fill="#2E8B57"/>
<polygon points="540.28,60.83 538.41,57.59 534.66,57.59 532.78,60.83 534.66,64.08 538.41,64.08" fill="#2E8B57"/>
<polygon points="540.35,60.00 538.48,56.75 534.73,56.75 532.85,60.00 534.73,63.25 538.48,63.25" fill="#2E8B57"/>
<polygon points="540.42,59.17 538.54,55.92 534.79,55.92 532.92,59.17 534.79,62.41 538.54,62.41" fill="#2E8B57"/>
<polygon points="540.48,58.33 538.61,55.09 534.86,55.09 532.98,58.33 534.86,61.58 538.61,61.58" fill="#2E8B57"/>
<polygon points="540.55,57.50 538.67,54.25 534.92,54.25 533.05,57.50 534.92,60.75 538.67,60.75" fill="#2E8B57"/>
<polygon points="540.62,56.67 538.74,53.42 534.99,53.42 533.12,56.67 534.99,59.91 538.74,59.91" fill="#2E8B57"/>
<polygon points="540.68,55.83 538.81,52.59 535.06,52.59 533.18,55.83 535.06,59.08 538.81,59.08" fill="#2E8B57"/>
<polygon points="540.75,55.00 538.88,51.75 535.12,51.75 533.25,55.00 535.12,58.25 538.88,58.25" fill="#2E8B57"/>
<polygon points="540.87,54.10 539.00,50.85 535.25,50.85 533.37,54.10 535.25,57.35 539.00,57.35" fill="#2E8B57"/>
<polygon points="540.99,53.20 539.12,49.95 535.37,49.95 533.49,53.20 535.37,56.45 539.12,56.45" fill="#2E8B57"/>
<polygon points="541.11,52.30 539.24,49.05 535.49,49.05 533.61,52.30 535.49,55.55 539.24,55.55" fill="#2E8B57"/>
<polygon points="541.23,51.40 539.36,48.15 535.61,48.15 533.73,51.40 535.61,54.65 539.36,54.65" fill="#2E8B57"/>
<polygon points="541.35,50.50 539.48,47.25 535.73,47.25 533.85,50.50 535.73,53.75 539.48,53.75" fill="#2E8B57"/>
<polygon points="125.95,338.20 124.08,334.95 120.33,334.95 118.45,338.20 120.33,341.45 124.08,341.45" fill="#2E8B57"/>
<polygon points="138.15,331.80 136.28,328.55 132.53,328.55 130.65,331.80 132.53,335.05 136.28,335.05" fill="#2E8B57"/>
<polygon points="141.95,326.50 140.07,323.25 136.32,323.25 134.45,326.50 136.32,329.75 140.07,329.75" fill="#2E8B57"/>
<polygon points="142.14,325.71 140.26,322.47 136.51,322.47 134.64,325.71 136.51,328.96 140.26,328.96" fill="#2E8B57"/>
<polygon points="142.32,324.93 140.45,321.68 136.70,321.68 134.82,324.93 136.70,328.18 140.45,328.18" fill="#2E8B57"/>
<polygon points="142.51,324.14 140.63,320.90 136.88,320.90 135.01,324.14 136.88,327.39 140.63,327.39" fill="#2E8B57"/>
<polygon points="142.69,323.36 140.82,320.11 137.07,320.11 135.19,323.36 137.07,326.60 140.82,326.60" fill="#2E8B57"/>
<polygon points="142.88,322.57 141.00,319.32 137.25,319.32 135.38,322.57 137.25,325.82 141.00,325.82" fill="#2E8B57"/>
<polygon points="143.06,321.79 141.19,318.54 137.44,318.54 135.56,321.79 137.44,325.03 141.19,325.03" fill="#2E8B57"/>
<polygon points="143.25,321.00 141.38,317.75 137.62,317.75 135.75,321.00 137.62,324.25 141.38,324.25" fill="#2E8B57"/>
<polygon points="143.39,320.14 141.52,316.90 137.77,316.90 135.89,320.14 137.77,323.39 141.52,323.39" fill="#2E8B57"/>
<polygon points="143.54,319.29 141.66,316.04 137.91,316.04 136.04,319.29 137.91,322.53 141.66,322.53" fill="#2E8B57"/>
<polygon points="143.68,318.43 141.80,315.18 138.05,315.18 136.18,318.43 138.05,321.68 141.80,321.68" fill="#2E8B57"/>
<polygon points="143.82,317.57 141.95,314.32 138.20,314.32 136.32,317.57 138.20,320.82 141.95,320.82" fill="#2E8B57"/>
<polygon points="143.96,316.71 142.09,313.47 138.34,313.47 136.46,316.71 138.34,319.96 142.09,319.96" fill="#2E8B57"/>
<polygon points="144.11,315.86 142.23,312.61 138.48,312.61 136.61,315.86 138.48,319.10 142.23,319.10" fill="#2E8B57"/>
<polygon points="144.25,315.00 142.38,311.75 138.62,311.75 136.75,315.00 138.62,318.25 142.38,318.25" fill="#2E8B57"/>
<polygon points="144.36,314.20 142.49,310.95 138.74,310.95 136.86,314.20 138.74,317.45 142.49,317.45" fill="#2E8B57"/>
<polygon points="144.47,313.40 142.59,310.15 138.84,310.15 136.97,313.40 138.84,316.65 142.59,316.65" fill="#2E8B57"/>
<polygon points="144.58,312.60 142.70,309.35 138.95,309.35 137.08,312.60 138.95,315.85 142.70,315.85" fill="#2E8B57"/>
<polygon points="144.69,311.80 142.81,308.55 139.06,308.55 137.19,311.80 139.06,315.05 142.81,315.05" fill="#2E8B57"/>
<polygon points="144.80,311.00 142.93,307.75 139.18,307.75 137.30,311.00 139.18,314.25 142.93,314.25" fill="#2E8B57"/>
<polygon points="144.91,310.20 143.03,306.95 139.28,306.95 137.41,310.20 139.28,313.45 143.03,313.45" fill="#2E8B57"/>
<polygon points="145.02,309.40 143.14,306.15 139.39,306.15 137.52,309.40 139.39,312.65 143.14,312.65" fill="#2E8B57"/>
<polygon points="145.13,308.60 143.25,305.35 139.50,305.35 137.63,308.60 139.50,311.85 143.25,311.85" fill="#2E8B57"/>
<polygon points="145.24,307.80 143.37,304.55 139.62,304.55 137.74,307.80 139.62,311.05 143.37,311.05" fill="#2E8B57"/>
<polygon points="145.35,307.00 143.47,303.75 139.72,303.75 137.85,307.00 139.72,310.25 143.47,310.25" fill="#2E8B57"/>
<polygon points="145.45,306.17 143.57,302.92 139.82,302.92 137.95,306.17 139.82,309.41 143.57,309.41" fill="#2E8B57"/>
<polygon points="145.55,305.33 143.68,302.09 139.93,302.09 138.05,305.33 139.93,308.58 143.68,308.58" fill="#2E8B57"/>
<polygon points="145.65,304.50 143.78,301.25 140.03,301.25 138.15,304.50 140.03,307.75 143.78,307.75" fill="#2E8B57"/>
<polygon points="145.75,303.67 143.88,300.42 140.12,300.42 138.25,303.67 140.12,306.91 143.88,306.91" fill="#2E8B57"/>
<polygon points="145.85,302.83 143.97,299.59 140.22,299.59 138.35,302.83 140.22,306.08 143.97,306.08" fill="#2E8B57"/>
<polygon points="145.95,302.00 144.07,298.75 140.32,298.75 138.45,302.00 140.32,305.25 144.07,305.25" fill="#2E8B57"/>
<polygon points="146.05,301.17 144.18,297.92 140.43,297.92 138.55,301.17 140.43,304.41 144.18,304.41" fill="#2E8B57"/>
<polygon points="146.15,300.33 144.28,297.09 140.53,297.09 138.65,300.33 140.53,303.58 144.28,303.58" fill="#2E8B57"/>
<polygon points="146.25,299.50 144.38,296.25 140.62,296.25 138.75,299.50 140.62,302.75 144.38,302.75" fill="#2E8B57"/>
<polygon points="146.35,298.67 144.48,295.42 140.73,295.42 138.85,298.67 140.73,301.91 144.48,301.91" fill="#2E8B57"/>
<polygon points="146.45,297.83 144.58,294.59 140.83,294.59 138.95,297.83 140.83,301.08 144.58,301.08" fill="#2E8B57"/>
<polygon points="146.55,297.00 144.68,293.75 140.93,293.75 139.05,297.00 140.93,300.25 144.68,300.25" fill="#2E8B57"/>
<polygon points="146.65,296.17 144.78,292.92 141.03,292.92 139.15,296.17 141.03,299.41 144.78,299.41" fill="#2E8B57"/>
<polygon points="146.75,295.33 144.88,292.09 141.12,292.09 139.25,295.33 141.12,298.58 144.88,298.58" fill="#2E8B57"/>
<polygon points="146.85,294.50 144.98,291.25 141.23,291.25 139.35,294.50 141.23,297.75 144.98,297.75" fill="#2E8B57"/>
<polygon points="146.95,293.67 145.08,290.42 141.33,290.42 139.45,293.67 141.33,296.91 145.08,296.91" fill="#2E8B57"/>
<polygon points="147.05,292.83 145.18,289.59 141.43,289.59 139.55,292.83 141.43,296.08 145.18,296.08" fill="#2E8B57"/>
<polygon points="147.15,292.00 145.28,288.75 141.53,288.75 139.65,292.00 141.53,295.25 145.28,295.25" fill="#2E8B57"/>
<polygon points="147.25,291.17 145.38,287.92 141.62,287.92 139.75,291.17 141.62,294.41 145.38,294.41" fill="#2E8B57"/>
<polygon points="147.35,290.33 145.47,287.09 141.72,287.09 139.85,290.33 141.72,293.58 145.47,293.58" fill="#2E8B57"/>
<polygon points="147.45,289.50 145.57,286.25 141.82,286.25 139.95,289.50 141.82,292.75 145.57,292.75" fill="#2E8B57"/>
<polygon points="147.55,288.67 145.68,285.42 141.93,285.42 140.05,288.67 141.93,291.91 145.68,291.91" fill="#2E8B57"/>
<polygon points="147.65,287.83 145.78,284.59 142.03,284.59 140.15,287.83 142.03,291.08 145.78,291.08" fill="#2E8B57"/>
<polygon points="147.75,287.00 145.88,283.75 142.12,283.75 140.25,287.00 142.12,290.25 145.88,290.25" fill="#2E8B57"/>
<polygon points="147.83,286.15 145.96,282.90 142.21,282.90 140.33,286.15 142.21,289.40 145.96,289.40" fill="#2E8B57"/>
<polygon points="147.91,285.30 146.03,282.05 142.28,282.05 140.41,285.30 142.28,288.55 146.03,288.55" fill="#2E8B57"/>
<polygon points="147.99,284.45 146.12,281.20 142.37,281.20 140.49,284.45 142.37,287.70 146.12,287.70" fill="#2E8B57"/>
<polygon points="148.07,283.60 146.19,280.35 142.44,280.35 140.57,283.60 142.44,286.85 146.19,286.85" fill="#2E8B57"/>
<polygon points="148.15,282.75 146.28,279.50 142.53,279.50 140.65,282.75 142.53,286.00 146.28,286.00" fill="#2E8B57"/>
<polygon points="148.23,281.90 146.36,278.65 142.61,278.65 140.73,281.90 142.61,285.15 146.36,285.15" fill="#2E8B57"/>
<polygon points="148.31,281.05 146.44,277.80 142.69,277.80 140.81,281.05 142.69,284.30 146.44,284.30" fill="#2E8B57"/>
<polygon points="148.39,280.20 146.52,276.95 142.77,276.95 140.89,280.20 142.77,283.45 146.52,283.45" fill="#2E8B57"/>
<polygon points="148.47,279.35 146.59,276.10 142.84,276.10 140.97,279.35 142.84,282.60 146.59,282.60" fill="#2E8B57"/>
<polygon points="148.55,278.50 146.68,275.25 142.93,275.25 141.05,278.50 142.93,281.75 146.68,281.75" fill="#2E8B57"/>
<polygon points="337.75,307.50 335.88,304.25 332.12,304.25 330.25,307.50 332.12,310.75 335.88,310.75" fill="#2E8B57"/>
<polygon points="348.75,293.40 346.88,290.15 343.12,290.15 341.25,293.40 343.12,296.65 346.88,296.65" fill="#2E8B57"/>
<polygon points="349.32,292.75 347.44,289.50 343.69,289.50 341.82,292.75 343.69,296.00 347.44,296.00" fill="#2E8B57"/>
<polygon points="349.88,292.10 348.01,288.85 344.26,288.85 342.38,292.10 344.26,295.35 348.01,295.35" fill="#2E8B57"/>
<polygon points="350.45,291.45 348.57,288.20 344.82,288.20 342.95,291.45 344.82,294.70 348.57,294.70" fill="#2E8B57"/>
<polygon points="351.02,290.80 349.14,287.55 345.39,287.55 343.52,290.80 345.39,294.05 349.14,294.05" fill="#2E8B57"/>
<polygon points="351.58,290.15 349.71,286.90 345.96,286.90 344.08,290.15 345.96,293.40 349.71,293.40" fill="#2E8B57"/>
<polygon points="352.15,289.50 350.27,286.25 346.52,286.25 344.65,289.50 346.52,292.75 350.27,292.75" fill="#2E8B57"/>
<polygon points="352.51,288.71 350.63,285.47 346.88,285.47 345.01,288.71 346.88,291.96 350.63,291.96" fill="#2E8B57"/>
<polygon points="352.86,287.93 350.99,284.68 347.24,284.68 345.36,287.93 347.24,291.18 350.99,291.18" fill="#2E8B57"/>
<polygon points="353.22,287.14 351.35,283.90 347.60,283.90 345.72,287.14 347.60,290.39 351.35,290.39" fill="#2E8B57"/>
<polygon points="353.58,286.36 351.70,283.11 347.95,283.11 346.08,286.36 347.95,289.60 351.70,289.60" fill="#2E8B57"/>
<polygon points="353.94,285.57 352.06,282.32 348.31,282.32 346.44,285.57 348.31,288.82 352.06,288.82" fill="#2E8B57"/>
<polygon points="354.29,284.79 352.42,281.54 348.67,281.54 346.79,284.79 348.67,288.03 352.42,288.03" fill="#2E8B57"/>
<polygon points="354.65,284.00 352.77,280.75 349.02,280.75 347.15,284.00 349.02,287.25 352.77,287.25" fill="#2E8B57"/>
<polygon points="355.01,283.21 353.13,279.97 349.38,279.97 347.51,283.21 349.38,286.46 353.13,286.46" fill="#2E8B57"/>
<polygon points="355.36,282.43 353.49,279.18 349.74,279.18 347.86,282.43 349.74,285.68 353.49,285.68" fill="#2E8B57"/>
<polygon points="355.72,281.64 353.85,278.40 350.10,278.40 348.22,281.64 350.10,284.89 353.85,284.89" fill="#2E8B57"/>
<polygon points="356.08,280.86 354.20,277.61 350.45,277.61 348.58,280.86 350.45,284.10 354.20,284.10" fill="#2E8B57"/>
<polygon points="356.44,280.07 354.56,276.82 350.81,276.82 348.94,280.07 350.81,283.32 354.56,283.32" fill="#2E8B57"/>
<polygon points="356.79,279.29 354.92,276.04 351.17,276.04 349.29,279.29 351.17,282.53 354.92,282.53" fill="#2E8B57"/>
<polygon points="357.15,278.50 355.27,275.25 351.52,275.25 349.65,278.50 351.52,281.75 355.27,281.75" fill="#2E8B57"/>
<polygon points="358.05,278.80 356.18,275.55 352.43,275.55 350.55,278.80 352.43,282.05 356.18,282.05" fill="#2E8B57"/>
<polygon points="551.15,326.10 549.27,322.85 545.52,322.85 543.65,326.10 545.52,329.35 549.27,329.35" fill="#2E8B57"/>
<polygon points="559.05,331.60 557.17,328.35 553.42,328.35 551.55,331.60 553.42,334.85 557.17,334.85" fill="#2E8B57"/>
<polygon points="559.48,332.40 557.60,329.15 553.85,329.15 551.98,332.40 553.85,335.65 557.60,335.65" fill="#2E8B57"/>
<polygon points="559.91,333.20 558.03,329.95 554.28,329.95 552.41,333.20 554.28,336.45 558.03,336.45" fill="#2E8B57"/>
<polygon points="560.34,334.00 558.46,330.75 554.71,330.75 552.84,334.00 554.71,337.25 558.46,337.25" fill="#2E8B57"/>
<polygon points="560.76,334.80 558.89,331.55 555.14,331.55 553.26,334.80 555.14,338.05 558.89,338.05" fill="#2E8B57"/>
<polygon points="561.19,335.60 559.32,332.35 555.57,332.35 553.69,335.60 555.57,338.85 559.32,338.85" fill="#2E8B57"/>
<polygon points="561.62,336.40 559.75,333.15 556.00,333.15 554.12,336.40 556.00,339.65 559.75,339.65" fill="#2E8B57"/>
<polygon points="562.05,337.20 560.17,333.95 556.42,333.95 554.55,337.20 556.42,340.45 560.17,340.45" fill="#2E8B57"/>
<polygon points="562.15,338.00 560.27,334.75 556.52,334.75 554.65,338.00 556.52,341.25 560.27,341.25" fill="#2E8B57"/>
<polygon points="562.25,338.80 560.38,335.55 556.62,335.55 554.75,338.80 556.62,342.05 560.38,342.05" fill="#2E8B57"/>
<polygon points="562.35,339.60 560.47,336.35 556.72,336.35 554.85,339.60 556.72,342.85 560.47,342.85" fill="#2E8B57"/>
<polygon points="562.45,340.40 560.57,337.15 556.82,337.15 554.95,340.40 556.82,343.65 560.57,343.65" fill="#2E8B57"/>
<polygon points="562.55,341.20 560.67,337.95 556.92,337.95 555.05,341.20 556.92,344.45 560.67,344.45" fill="#2E8B57"/>
<polygon points="562.65,342.00 560.77,338.75 557.02,338.75 555.15,342.00 557.02,345.25 560.77,345.25" fill="#2E8B57"/>
<polygon points="562.75,342.80 560.88,339.55 557.12,339.55 555.25,342.80 557.12,346.05 560.88,346.05" fill="#2E8B57"/>
<polygon points="562.85,343.60 560.98,340.35 557.23,340.35 555.35,343.60 557.23,346.85 560.98,346.85" fill="#2E8B57"/>
<polygon points="562.95,344.40 561.07,341.15 557.32,341.15 555.45,344.40 557.32,347.65 561.07,347.65" fill="#2E8B57"/>
<polygon points="563.05,345.20 561.17,341.95 557.42,341.95 555.55,345.20 557.42,348.45 561.17,348.45" fill="#2E8B57"/>
<polygon points="563.15,346.00 561.27,342.75 557.52,342.75 555.65,346.00 557.52,349.25 561.27,349.25" fill="#2E8B57"/>
<polygon points="563.27,346.83 561.40,343.58 557.65,343.58 555.77,346.83 557.65,350.08 561.40,350.08" fill="#2E8B57"/>
<polygon points="563.39,347.66 561.52,344.41 557.77,344.41 555.89,347.66 557.77,350.90 561.52,350.90" fill="#2E8B57"/>
<polygon points="563.51,348.49 561.64,345.24 557.89,345.24 556.01,348.49 557.89,351.73 561.64,351.73" fill="#2E8B57"/>
<polygon points="563.64,349.31 561.76,346.07 558.01,346.07 556.14,349.31 558.01,352.56 561.76,352.56" fill="#2E8B57"/>
<polygon points="563.76,350.14 561.88,346.90 558.13,346.90 556.26,350.14 558.13,353.39 561.88,353.39" fill="#2E8B57"/>
<polygon points="563.88,350.97 562.00,347.72 558.25,347.72 556.38,350.97 558.25,354.22 562.00,354.22" fill="#2E8B57"/>
<polygon points="564.00,351.80 562.12,348.55 558.38,348.55 556.50,351.80 558.38,355.05 562.12,355.05" fill="#2E8B57"/>
<polygon points="564.12,352.63 562.25,349.38 558.50,349.38 556.62,352.63 558.50,355.88 562.25,355.88" fill="#2E8B57"/>
<polygon points="564.24,353.46 562.37,350.21 558.62,350.21 556.74,353.46 558.62,356.70 562.37,356.70" fill="#2E8B57"/>
<polygon points="564.36,354.29 562.49,351.04 558.74,351.04 556.86,354.29 558.74,357.53 562.49,357.53" fill="#2E8B57"/>
<polygon points="564.49,355.11 562.61,351.87 558.86,351.87 556.99,355.11 558.86,358.36 562.61,358.36" fill="#2E8B57"/>
<polygon points="564.61,355.94 562.73,352.70 558.98,352.70 557.11,355.94 558.98,359.19 562.73,359.19" fill="#2E8B57"/>
<polygon points="564.73,356.77 562.85,353.52 559.10,353.52 557.23,356.77 559.10,360.02 562.85,360.02" fill="#2E8B57"/>
<polygon points="564.85,357.60 562.98,354.35 559.23,354.35 557.35,357.60 559.23,360.85 562.98,360.85" fill="#2E8B57"/>
<polygon points="55.20,41.45 51.95,43.33 51.95,47.08 55.20,48.95 58.45,47.08 58.45,43.33" fill="#000080"/>
<polygon points="96.80,109.45 93.55,111.33 93.55,115.08 96.80,116.95 100.05,115.08 100.05,111.33" fill="#000080"/>
<polygon points="117.40,130.85 114.15,132.72 114.15,136.47 117.40,138.35 120.65,136.47 120.65,132.72" fill="#000080"/>
<polygon points="130.10,130.05 126.85,131.93 126.85,135.68 130.10,137.55 133.35,135.68 133.35,131.93" fill="#000080"/>
<polygon points="135.00,122.55 131.75,124.42 131.75,128.18 135.00,130.05 138.25,128.18 138.25,124.42" fill="#000080"/>
<polygon points="361.70,66.75 358.45,68.62 358.45,72.38 361.70,74.25 364.95,72.38 364.95,68.62" fill="#000080"/>
<polygon points="359.70,84.65 356.45,86.53 356.45,90.28 359.70,92.15 362.95,90.28 362.95,86.53" fill="#000080"/>
<polygon points="355.40,117.55 352.15,119.42 352.15,123.17 355.40,125.05 358.65,123.17 358.65,119.42" fill="#000080"/>
<polygon points="347.20,142.45 343.95,144.32 343.95,148.07 347.20,149.95 350.45,148.07 350.45,144.32" fill="#000080"/>
<polygon points="316.90,165.45 313.65,167.32 313.65,171.07 316.90,172.95 320.15,171.07 320.15,167.32" fill="#000080"/>
<polygon points="577.10,41.35 573.85,43.23 573.85,46.98 577.10,48.85 580.35,46.98 580.35,43.23" fill="#000080"/>
<polygon points="574.90,53.55 571.65,55.42 571.65,59.17 574.90,61.05 578.15,59.17 578.15,55.42" fill="#000080"/>
<polygon points="571.50,69.65 568.25,71.53 568.25,75.28 571.50,77.15 574.75,75.28 574.75,71.53" fill="#000080"/>
<polygon points="567.30,81.15 564.05,83.03 564.05,86.78 567.30,88.65 570.55,86.78 570.55,83.03" fill="#000080"/>
<polygon points="552.70,86.45 549.45,88.33 549.45,92.08 552.70,93.95 555.95,92.08 555.95,88.33" fill="#000080"/>
<polygon points="165.10,335.95 161.85,337.82 161.85,341.57 165.10,343.45 168.35,341.57 168.35,337.82" fill="#000080"/>
<polygon points="172.80,335.95 169.55,337.82 169.55,341.57 172.80,343.45 176.05,341.57 176.05,337.82" fill="#000080"/>
<polygon points="174.80,334.55 171.55,336.43 171.55,340.18 174.80,342.05 178.05,340.18 178.05,336.43" fill="#000080"/>
<polygon points="177.10,332.55 173.85,334.43 173.85,338.18 177.10,340.05 180.35,338.18 180.35,334.43" fill="#000080"/>
<polygon points="178.30,327.95 175.05,329.82 175.05,333.57 178.30,335.45 181.55,333.57 181.55,329.82" fill="#000080"/>
<polygon points="180.20,324.85 176.95,326.73 176.95,330.48 180.20,332.35 183.45,330.48 183.45,326.73" fill="#000080"/>
<polygon points="365.10,333.55 361.85,335.43 361.85,339.18 365.10,341.05 368.35,339.18 368.35,335.43" fill="#000080"/>
<polygon points="372.30,323.45 369.05,325.32 369.05,329.07 372.30,330.95 375.55,329.07 375.55,325.32" fill="#000080"/>
<polygon points="375.10,313.95 371.85,315.82 371.85,319.57 375.10,321.45 378.35,319.57 378.35,315.82" fill="#000080"/>
<polygon points="377.40,304.65 374.15,306.52 374.15,310.27 377.40,312.15 380.65,310.27 380.65,306.52" fill="#000080"/>
<polygon points="378.40,300.35 375.15,302.23 375.15,305.98 378.40,307.85 381.65,305.98 381.65,302.23" fill="#000080"/>
<polygon points="568.70,278.25 565.45,280.12 565.45,283.88 568.70,285.75 571.95,283.88 571.95,280.12" fill="#000080"/>
<polygon points="570.50,277.55 567.25,279.43 567.25,283.18 570.50,285.05 573.75,283.18 573.75,279.43" fill="#000080"/>
<polygon points="573.50,275.75 570.25,277.62 570.25,281.38 573.50,283.25 576.75,281.38 576.75,277.62" fill="#000080"/>
<polygon points="575.50,274.75 572.25,276.62 572.25,280.38 575.50,282.25 578.75,280.38 578.75,276.62" fill="#000080"/>
<polygon points="576.30,274.15 573.05,276.02 573.05,279.77 576.30,281.65 579.55,279.77 579.55,276.02" fill="#000080"/>
<rect x="604.5" y="0.5" width="80" height="50.8" rx="1.2" fill="#fff" stroke="#888" stroke-width="1"/>
<circle cx="615.10" cy="7.60" r="3.7" fill="#B22222"/>
<polygon points="619.00,23.90 617.10,20.61 613.30,20.61 611.40,23.90 613.30,27.19 617.10,27.19" fill="#2E8B57"/>
<polygon points="615.20,36.30 612.00,38.15 612.00,41.85 615.20,43.70 618.40,41.85 618.40,38.15" fill="#000080"/>
<text x="621.9" y="10.5" font-size="8.3" class="t" textLength="45.6" lengthAdjust="spacingAndGlyphs">Anger ESSE</text>
<text x="621.9" y="26.7" font-size="8.3" class="t" textLength="45.0" lengthAdjust="spacingAndGlyphs">Anger DEW</text>
<text x="621.9" y="43.0" font-size="8.3" class="t" textLength="56.6" lengthAdjust="spacingAndGlyphs">Ring CZT DEW</text>
</svg></body></html>
